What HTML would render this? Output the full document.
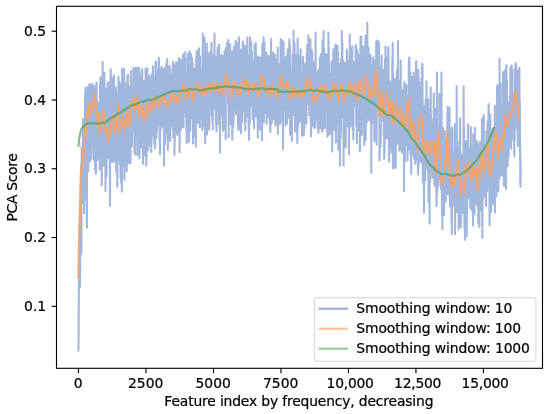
<!DOCTYPE html>
<html lang="en"><head><meta charset="utf-8"><title>PCA Score by feature index</title>
<style>html,body{margin:0;padding:0;background:#fff}body{width:550px;height:414px;overflow:hidden}svg{display:block}text{stroke:#000;stroke-width:.22px}</style>
</head><body>
<svg width="550" height="414" viewBox="0 0 550 414" font-family="'DejaVu Sans', 'Liberation Sans', sans-serif" font-size="13.89px" fill="#000">
<rect width="550" height="414" fill="#fff" stroke="none"/>
<clipPath id="c"><rect x="56.5" y="6.3" width="486.0" height="362.0"/></clipPath>
<g clip-path="url(#c)" fill="none" stroke-width="2.08" stroke-linejoin="round" stroke-linecap="square">
<path d="M78.4,350.5 78.5,339 78.6,336.8 78.6,312.5 78.7,319.2 78.9,281.9 78.9,276.9 79,291.5 79.1,272.6 79.1,288.7 79.2,281.9 79.3,270.4 79.4,268.2 79.5,254.8 79.5,254.4 79.7,243 79.7,240.7 79.8,229.3 79.9,227 80,215.6 80,286.7 80.2,251.7 80.2,252.7 80.3,235.5 80.4,229.4 80.5,207 80.6,209.7 80.6,235 80.7,255 80.8,233.4 80.8,223.6 81,210.8 81.1,203.1 81.1,172.5 81.2,164.4 81.3,208.8 81.3,196 81.4,253 81.5,232.9 81.6,176.1 81.6,162 81.7,146.9 81.8,153.3 81.9,198.7 82,160.7 82.1,196 82.1,187.9 82.2,168 82.4,180.3 82.4,199.7 82.5,202.3 82.6,174.9 82.6,171.8 82.7,153.4 82.9,143.4 82.9,129.5 83,148.9 83,124.2 83.1,144.2 83.2,118.8 83.3,121.8 83.4,155.9 83.4,170.9 83.6,145.9 83.7,130.3 83.7,178 83.8,177.3 83.9,197.1 83.9,197.3 84,146.3 84.2,213.2 84.2,193.9 84.2,206.1 84.4,160.4 84.4,165.3 84.5,183.2 84.6,166.9 84.6,200.6 84.8,184.8 84.9,165.7 84.9,159.3 85,105.8 85.1,94.8 85.1,118.5 85.2,115.2 85.2,138.6 85.4,116.3 85.5,90.2 85.5,87.8 85.6,99 85.7,98.4 85.8,145.1 85.9,140.7 86,170.6 86,159.2 86.2,116.7 86.2,120.4 86.3,155.7 86.3,145.6 86.4,186.4 86.5,158 86.6,135.9 86.7,115.4 86.8,163.4 86.8,178.5 86.9,227.7 87,195.2 87.1,122.5 87.2,91.3 87.3,118.9 87.3,135.2 87.4,150.7 87.5,151.2 87.5,108 87.6,115.1 87.7,87.1 87.9,105.7 87.9,91.3 88,105.1 88,148.3 88.2,161.6 88.3,133.9 88.3,171.1 88.4,136.6 88.4,148.5 88.6,87.2 88.6,91.3 88.7,107.9 88.8,92.8 88.9,130.1 88.9,112.3 89,132.9 89.1,110.7 89.2,84.7 89.4,84.5 89.4,85.9 89.4,86 89.5,92.8 89.6,108.2 89.7,86.6 89.8,87.8 89.9,116.5 89.9,129.4 90,161.1 90.1,161.4 90.2,147.2 90.2,160.4 90.4,131.3 90.4,134.1 90.5,93.9 90.6,102.6 90.7,86 90.7,100.9 90.8,85 90.9,97.7 91,115.7 91.1,158.8 91.2,126.6 91.2,150.1 91.2,137.2 91.4,140.1 91.5,92.6 91.5,86.7 91.6,83.9 91.7,83.9 91.8,85.4 91.9,88.6 92,135.7 92.1,144.9 92.1,110.7 92.2,109.9 92.3,135.6 92.3,131.8 92.4,101.4 92.6,104.1 92.6,120.4 92.7,113.3 92.8,95.4 92.9,84.9 92.9,102.8 93,98 93.1,134.7 93.3,128.7 93.3,107.9 93.3,97.4 93.4,142.6 93.6,159.4 93.6,139.4 93.7,110.4 93.8,86 93.8,85.6 93.9,110.5 94,102.3 94,134.9 94.2,98.5 94.3,90.5 94.3,88.7 94.4,110.8 94.5,120.1 94.6,109.5 94.6,134.5 94.7,108.1 94.8,88.7 94.9,108 94.9,122 95,170.1 95.1,149.9 95.2,120.8 95.3,104.4 95.4,87 95.4,87.4 95.6,113.5 95.6,109.6 95.7,162.5 95.8,162.9 95.9,173.6 95.9,160.4 96,102.8 96.1,107.6 96.1,127.4 96.2,137 96.4,92.1 96.4,82.8 96.5,82.5 96.6,82.5 96.7,86.9 96.7,104.1 96.8,133.9 96.9,123.2 97,103.8 97.1,122.6 97.2,100 97.3,125.8 97.3,138.6 97.4,160.1 97.5,133 97.5,156.8 97.6,118.3 97.8,106.6 97.8,134.8 97.9,142 98,124.3 98.1,139.9 98.1,114.8 98.3,129.3 98.3,108.8 98.3,114.6 98.4,150.5 98.5,157.2 98.6,132.1 98.7,126.4 98.8,102.9 98.8,108.8 99,131 99,103.1 99.1,145.2 99.1,154.7 99.3,117.3 99.3,154.6 99.4,118.6 99.5,130.5 99.6,103.8 99.6,138 99.7,169.3 99.8,165.4 99.9,118.2 100,106.2 100,83.8 100.1,98.9 100.3,138.5 100.3,141.5 100.4,78.5 100.5,77.2 100.6,95.3 100.6,109.6 100.7,142.6 100.8,169.6 100.9,155.5 101,162.8 101.1,110 101.2,92.5 101.2,108.9 101.3,120.4 101.3,150.4 101.5,118.2 101.6,167.9 101.6,162 101.7,180 101.8,185.1 101.9,135.7 101.9,149.7 101.9,121.1 102.1,124 102.2,146.5 102.3,124.9 102.3,158.6 102.4,131.9 102.5,80.3 102.6,61.7 102.7,89.8 102.7,112.3 102.8,139.5 102.9,116.2 103,83 103,94 103.1,136.7 103.2,141.9 103.3,165.6 103.4,137.3 103.5,103.7 103.5,107.5 103.6,75 103.7,75.8 103.8,99.1 103.8,94.6 104,112.5 104,129.8 104.1,115.6 104.2,105.9 104.3,77 104.4,72.7 104.5,87 104.5,84.8 104.6,112.3 104.7,117.4 104.8,94.2 104.8,100.8 105,121.4 105,116.7 105.1,93.6 105.2,110.3 105.3,155 105.3,148.7 105.4,173.5 105.5,191 105.6,141.6 105.7,125.7 105.7,107.7 105.8,109.1 105.8,128.3 106,108.1 106,142.5 106.1,142.4 106.3,95.5 106.4,88.8 106.4,97.2 106.4,120.9 106.5,172.7 106.6,176.4 106.7,112 106.8,108.2 106.9,93.7 107,93.5 107,128 107.1,110.9 107.2,125 107.3,122.1 107.4,152.2 107.4,139.7 107.5,90.6 107.6,83.4 107.7,102.6 107.8,97.2 107.9,109.1 108,100.4 108,139.8 108.1,156.3 108.2,140 108.2,133.1 108.3,83.3 108.4,105.7 108.5,82.1 108.5,84.7 108.6,108.5 108.7,103.7 108.8,158 108.9,138.5 109,152.7 109,118.5 109.1,92.9 109.3,88.6 109.3,147.3 109.4,141 109.5,160.3 109.5,156 109.6,116.3 109.7,121.4 109.8,94.4 109.8,102.3 110,190.2 110,206 110.1,160.3 110.2,164.4 110.2,122.4 110.3,130.6 110.4,153 110.5,147.2 110.6,88.7 110.7,74.6 110.7,69.4 110.8,72.4 110.9,109.9 111,114.8 111.1,123 111.2,137 111.2,104.3 111.3,116 111.4,143.9 111.5,136.1 111.6,160.3 111.7,161.5 111.7,123.2 111.8,124 111.9,77.9 112,81.1 112,99.1 112.1,109 112.2,127.5 112.3,113.1 112.4,162.1 112.5,148.3 112.5,129 112.6,135.9 112.7,112.5 112.8,106.8 112.8,86.5 112.9,89 113,113.6 113.1,149.9 113.2,118.2 113.2,161.2 113.4,112.9 113.5,124.3 113.5,80.3 113.6,100.7 113.7,109.9 113.7,102.4 113.8,80.9 113.9,75.2 114,102.2 114.1,86.3 114.2,132.1 114.2,137.8 114.3,119 114.4,105.2 114.5,121.6 114.5,104.2 114.7,119.8 114.7,108.3 114.8,150 114.9,146.5 114.9,161.7 115,158.3 115.2,129.6 115.2,123.2 115.3,142.8 115.4,145.5 115.5,108.7 115.6,120.8 115.6,98 115.7,113.9 115.8,88.4 115.8,87.4 116,135.4 116,133 116.1,163.5 116.2,172 116.3,149.4 116.4,146.9 116.5,100.5 116.5,102.4 116.6,111.3 116.7,125.8 116.8,114 116.9,126.8 116.9,93.9 117,107.8 117.1,151.2 117.1,147.5 117.2,175.5 117.3,187 117.4,133.5 117.5,158.8 117.6,119.4 117.7,119.9 117.8,129.5 117.8,109 117.9,135.6 117.9,143.7 118,153.4 118.1,160.3 118.2,114.5 118.3,105.2 118.4,84 118.5,76.6 118.6,98.1 118.6,91.6 118.7,115 118.8,105.8 118.9,131.2 118.9,132.1 119,114.7 119.1,129.6 119.2,92.3 119.3,108.3 119.4,82.1 119.4,91.5 119.5,110.8 119.6,95.5 119.7,112.5 119.8,89.5 119.9,118.7 119.9,164.3 120,143.7 120.1,139.9 120.2,89.4 120.3,84.1 120.4,128.1 120.4,133.1 120.5,177.6 120.5,143.9 120.7,86.3 120.8,93.4 120.8,151 120.9,174.8 121,163.9 121.1,182.5 121.2,156.8 121.2,158.3 121.3,114.9 121.4,126.2 121.5,91.1 121.5,121.5 121.6,150.4 121.7,135 121.8,183.5 121.8,191.6 122,182.9 122,173.8 122.1,74.3 122.2,71.7 122.2,68.8 122.3,71.6 122.4,103.6 122.6,154.6 122.6,111.1 122.6,111.5 122.7,135.4 122.8,99.6 122.9,135.8 123,121.7 123.1,138.3 123.1,117.6 123.2,74 123.3,69.7 123.4,119.9 123.5,107 123.6,164.2 123.6,143.4 123.7,159.7 123.9,165.7 123.9,121.3 124,103.8 124.1,87.2 124.1,68.6 124.2,91.5 124.3,88.6 124.4,144 124.4,152.3 124.5,179.9 124.6,165.7 124.7,150.9 124.8,152.5 124.9,131.3 124.9,116.5 125,138.7 125.1,125.2 125.2,90.5 125.2,83.1 125.4,122 125.5,117.9 125.5,141.2 125.6,123.1 125.6,140.6 125.7,152.8 125.8,124.3 125.9,109.9 125.9,92.3 126.1,111.5 126.2,133.7 126.2,137.9 126.2,124.7 126.4,139.8 126.5,115.3 126.6,114.1 126.6,149.5 126.7,157.1 126.8,171.1 126.9,154.4 127,118.2 127,160.1 127.1,153.3 127.2,155 127.3,96 127.4,75.9 127.5,86 127.5,91 127.6,126.2 127.7,133.5 127.7,144.2 127.9,124.6 128,86.1 128,74.8 128.1,112.1 128.2,110.4 128.2,134.2 128.4,128.5 128.5,110.2 128.5,131.4 128.6,94.6 128.7,127.8 128.8,103.3 128.8,120.5 128.9,153.5 129,162.9 129.1,130.3 129.2,146.1 129.2,115.6 129.3,99.8 129.4,125.9 129.5,118.9 129.5,95.1 129.7,108.6 129.7,97.1 129.8,85.7 129.9,116.2 129.9,126.8 130,161.6 130.1,154.8 130.2,114.6 130.3,125.7 130.3,150.4 130.4,149.8 130.5,163.2 130.6,152.2 130.7,125.8 130.8,124.4 130.9,81.4 130.9,70.8 131,93.4 131.1,99.8 131.2,140.2 131.2,146.6 131.3,104.4 131.5,132.2 131.5,82.6 131.6,107.6 131.7,141.8 131.8,104.1 131.9,143.1 131.9,146.2 132,113.4 132.1,135 132.2,106.8 132.3,121.3 132.3,128.1 132.4,126.2 132.5,96.7 132.5,97.7 132.6,82.7 132.7,113.1 132.8,130.5 132.9,122 133,85.8 133,82.1 133.2,123.2 133.2,117.5 133.3,79 133.4,67.8 133.5,68.3 133.5,71.2 133.6,69 133.7,72.8 133.8,83.2 133.8,88.7 133.9,111 134,104.7 134.1,113.7 134.2,119.4 134.2,108.1 134.3,103.8 134.5,152.8 134.5,151.5 134.6,132.7 134.7,117.5 134.7,89.3 134.8,110.8 134.9,154.4 135,133.2 135,144.2 135.2,120.9 135.2,136.6 135.3,122.7 135.4,89 135.5,89.5 135.6,69.2 135.6,68.1 135.7,79.2 135.8,74.5 135.9,114.2 136,123.1 136.1,93.2 136.2,81.7 136.2,109.6 136.3,94.1 136.3,133.6 136.5,118.6 136.6,67.8 136.6,67.8 136.7,77.2 136.8,98 136.9,87.1 136.9,91.2 137,73.7 137.1,92.8 137.2,134.1 137.2,138.8 137.3,155 137.4,141.4 137.5,121.4 137.6,136.6 137.7,114.1 137.8,132.6 137.9,94.6 137.9,98.7 138,129.3 138,132.6 138.2,112 138.2,92.7 138.3,68.3 138.4,92.8 138.4,74.6 138.6,107.2 138.7,72 138.7,80.9 138.8,67.9 138.9,67.7 139,74 139,76.5 139.2,103.3 139.2,98 139.3,142.7 139.4,141.3 139.5,158.1 139.5,151.3 139.6,104.4 139.7,105.5 139.7,71.8 139.9,89.3 140,125.6 140,133.4 140.1,98.1 140.2,105.7 140.3,118.5 140.3,139.1 140.4,120.6 140.5,143.2 140.6,117.4 140.7,128 140.8,93.5 140.9,107.2 140.9,89.4 141,88.9 141.1,122.9 141.1,117.7 141.2,147.3 141.3,147.8 141.4,136.4 141.5,133.4 141.6,81.1 141.6,77.7 141.7,106.7 141.8,102.9 141.8,116.8 141.9,106.1 142.1,69.4 142.2,70.4 142.2,94.5 142.4,90.2 142.4,108.5 142.4,123.9 142.6,93.5 142.6,82.1 142.7,106.5 142.8,95.7 142.9,135.5 143,163.9 143,132.1 143.1,124.2 143.2,87.1 143.3,134.2 143.4,108.9 143.4,118.6 143.5,128.7 143.6,110.1 143.6,137.6 143.7,134.9 143.8,105 143.9,113.3 144,148.5 144,155.4 144.2,110.1 144.3,80.7 144.3,112.7 144.4,121.5 144.5,136.9 144.5,137.8 144.7,111.1 144.7,115.7 144.7,94 144.9,93.3 145,111.8 145.1,92 145.1,120.2 145.2,93.9 145.3,125.6 145.3,132.1 145.5,122.2 145.5,118.2 145.6,68.5 145.7,69.3 145.8,95 145.8,95.2 146,137.7 146,134.7 146.1,159.5 146.3,140.4 146.3,165.4 146.3,165.6 146.4,154.2 146.5,159.6 146.6,90.6 146.6,87 146.8,101.1 146.9,85.3 146.9,102.8 147,94.9 147.1,77 147.1,68.6 147.2,81.2 147.3,68.2 147.4,115.3 147.4,90.1 147.6,130.3 147.6,140.1 147.7,108 147.8,128 147.9,137.8 148,150.3 148,115.6 148.1,117.9 148.1,84.6 148.3,132.2 148.3,110.1 148.4,140.7 148.6,96.5 148.6,104 148.7,80.4 148.8,80.9 148.9,97.7 148.9,111.2 149,96.3 149.1,94.6 149.2,145.5 149.2,143.8 149.3,134.8 149.4,75.6 149.5,109 149.6,99.3 149.7,115.6 149.7,125.6 149.8,99.4 149.9,117.3 150,79.6 150.1,79.1 150.2,105 150.2,94.1 150.3,123.2 150.4,99 150.5,120.9 150.5,105.2 150.7,145.9 150.7,133.2 150.7,108.7 150.8,104.6 150.9,78.4 151,88.6 151.1,124.5 151.2,134.7 151.3,151.9 151.4,135.9 151.4,114.5 151.5,116.9 151.6,135.8 151.7,124.4 151.8,77.1 151.8,82.4 151.8,74.2 152,80.9 152.1,117.3 152.1,107.2 152.3,133.9 152.3,121.8 152.4,90.5 152.5,76.8 152.6,107.2 152.6,113.1 152.7,76.6 152.8,79.5 152.9,66.2 153,96.7 153.1,132.5 153.1,125.8 153.2,100.7 153.3,109.9 153.4,77.5 153.4,83.5 153.5,101.3 153.6,107.4 153.7,134.3 153.8,139.1 153.9,117.9 154,81.4 154,109.7 154.1,88.1 154.2,133 154.3,123.2 154.3,144 154.4,140.2 154.6,121 154.6,108.3 154.7,90.7 154.7,88 154.9,118.4 154.9,125.7 155,144.3 155.1,148.5 155.2,115.2 155.3,142.5 155.4,87.8 155.4,76.9 155.5,61.9 155.6,62 155.7,97.4 155.7,105.8 155.8,131.5 155.9,130.8 156,73.2 156,79.2 156.1,61.6 156.2,64.2 156.3,113.7 156.4,138.3 156.5,99.3 156.5,86.3 156.7,112.3 156.7,94.6 156.8,132.3 156.9,123.9 156.9,89.3 157,96.2 157.1,69.5 157.2,86.2 157.2,108.1 157.4,113.9 157.5,94 157.5,102 157.6,81.4 157.7,83.3 157.8,111.7 157.9,96.2 158,124.7 158,120.8 158.1,100.8 158.2,114.8 158.2,91.8 158.3,87.5 158.4,113 158.5,93.3 158.6,114.4 158.7,111.1 158.8,72.1 158.8,66.2 158.9,57.8 159,64.6 159.1,103.7 159.1,119.2 159.2,91.9 159.3,82.3 159.4,114.7 159.4,117 159.6,141.4 159.6,129.8 159.7,103.9 159.8,100.2 159.9,142.8 160,154.4 160.1,141.5 160.1,147.1 160.2,110.7 160.3,89.3 160.3,126.9 160.4,132.6 160.5,89.6 160.6,70 160.7,89.9 160.7,98.6 160.8,114.3 160.9,126.6 161,93.5 161.1,96.6 161.1,113.7 161.2,105.5 161.3,67.9 161.4,76 161.5,105.6 161.6,116.8 161.7,93.4 161.7,67 161.8,83.9 161.9,87.2 162,117.9 162.1,122.1 162.2,88.9 162.2,98.2 162.3,70 162.4,69.7 162.4,108.9 162.5,107 162.6,91.3 162.7,91.9 162.8,119.3 162.8,127.2 163,83.9 163.1,91.1 163.1,79.2 163.2,99.8 163.2,117.8 163.3,111.6 163.4,84.8 163.6,83.9 163.6,105.9 163.7,112.5 163.7,129.9 163.9,107.1 164,125.4 164,165.5 164.1,90.2 164.1,79.5 164.2,68.4 164.3,71.7 164.4,101 164.5,84.4 164.5,100.7 164.6,77.5 164.7,95.3 164.8,105.3 164.9,139.9 165,143.7 165.1,122.2 165.2,105.3 165.2,117.6 165.3,116.6 165.3,98.3 165.5,109.7 165.6,132.9 165.6,130 165.7,102 165.8,100.8 165.9,65.8 165.9,77.5 166,109.9 166.1,108.3 166.2,131.9 166.2,111.9 166.4,78.7 166.4,86.7 166.5,63.9 166.6,63 166.7,77.2 166.7,75.6 166.9,123.8 166.9,128.9 167,100 167.1,92 167.2,61.1 167.2,59.1 167.4,95.4 167.4,110.3 167.5,139.4 167.5,121.1 167.6,109.8 167.7,125.7 167.8,150.1 167.9,146.5 168,127.5 168.1,112.6 168.1,129.5 168.2,110.1 168.2,92.5 168.4,109.2 168.4,131.9 168.5,138.5 168.6,98.7 168.7,85.1 168.8,66.5 168.9,79.3 168.9,98.9 169,87 169.1,105.5 169.2,98.5 169.3,112.6 169.3,106.1 169.4,81.5 169.5,85.5 169.6,65.9 169.7,68.1 169.8,94.6 169.8,90.7 169.9,131.6 170,115.5 170.1,131.3 170.2,118.6 170.3,141 170.3,127.1 170.4,113.7 170.5,92.2 170.6,114.1 170.7,87.9 170.8,124 170.8,129.1 170.9,98.5 171,119.9 171.1,99.8 171.2,106.3 171.2,90.4 171.3,84.8 171.4,101.1 171.4,90.6 171.5,77.5 171.6,93.5 171.7,113.1 171.8,126 171.9,98.4 171.9,74.5 172,101.5 172.1,73.3 172.2,104.9 172.3,69 172.4,88.5 172.5,82.6 172.5,105.1 172.6,116.3 172.7,89.3 172.8,97.8 172.9,65.2 172.9,61.9 173,76.7 173.1,65.4 173.2,96.3 173.2,95.3 173.3,127.8 173.4,137.5 173.4,132.6 173.6,128.3 173.7,81 173.7,96 173.8,67.7 173.9,65.6 173.9,87.7 174,83.1 174.1,119.1 174.2,99.5 174.3,76.1 174.4,81.9 174.5,137.8 174.5,155 174.6,121.9 174.7,115.5 174.8,141.3 174.9,99.3 174.9,112.5 175.1,72.9 175.1,110.7 175.2,93.7 175.3,108.5 175.3,104.7 175.4,86.2 175.5,64.5 175.6,85.3 175.7,82.6 175.8,103.6 175.8,94.1 175.9,70.4 176,62.6 176.1,119.6 176.2,94.4 176.2,116.3 176.3,114.1 176.3,90 176.5,104.9 176.6,125.8 176.6,131.1 176.7,102 176.8,82.3 176.9,109.8 177,105.2 177,132.2 177.2,134.7 177.2,115.3 177.3,121.5 177.3,132 177.4,112.9 177.5,76.1 177.6,74.8 177.7,89.8 177.8,94.5 177.9,73.2 178,61.7 178.1,75.4 178.1,66.5 178.2,110 178.2,119 178.3,125.4 178.4,124.1 178.5,106.9 178.6,90.4 178.7,121.9 178.7,132.2 178.8,119.4 178.9,121.7 179,58.3 179.1,60.8 179.2,75.4 179.2,70.4 179.3,112.6 179.4,117.5 179.5,145.9 179.6,152.2 179.7,142.4 179.7,144.1 179.8,93.6 179.9,71.5 179.9,85.7 180,90.1 180.1,103.3 180.2,116.7 180.3,98.4 180.3,97.5 180.5,81 180.5,65.2 180.6,102.9 180.7,109.7 180.8,130.1 180.8,124.3 181,81.9 181,74.3 181,59.8 181.2,73.6 181.3,97 181.4,93 181.5,112.1 181.5,101.7 181.6,92.8 181.6,69.3 181.8,96.9 181.8,83 181.9,126.9 182,112.8 182.1,84.1 182.2,66.4 182.3,100.2 182.3,94.5 182.4,109.1 182.5,122.9 182.6,75.5 182.7,69.9 182.8,92.1 182.8,90 182.9,111.7 182.9,109 183.1,54.3 183.1,55.7 183.2,72.3 183.3,87.8 183.4,118.4 183.5,127.3 183.6,88.3 183.6,118.4 183.7,75.6 183.8,66 183.8,90.4 183.9,71.6 184,95.6 184.1,76.5 184.2,83 184.3,69.1 184.4,87.5 184.4,112.4 184.5,92.9 184.6,69 184.6,87.6 184.7,73.5 184.8,102.4 185,72.8 185,93 185,95.9 185.2,58.1 185.3,65.4 185.3,52 185.4,52.1 185.5,72.6 185.6,64.7 185.6,79.3 185.8,57.9 185.8,71.5 185.9,80.1 186,113.1 186,116.9 186.1,74.1 186.2,74.5 186.3,96.1 186.3,100.5 186.5,124.2 186.5,119.8 186.6,141.9 186.7,143.1 186.8,130.1 186.8,136.2 187,108.4 187,113.7 187.1,93.8 187.2,116.7 187.3,92.4 187.3,112 187.4,78.2 187.5,72.1 187.6,91.5 187.6,110 187.7,97.5 187.8,122.6 187.9,91.5 188,86.8 188.1,54.1 188.1,59.7 188.3,123.7 188.3,109.6 188.3,104 188.5,97.7 188.5,69.3 188.7,73 188.7,104.2 188.8,107.3 188.9,132.1 189,141.9 189.1,115.6 189.1,115.8 189.1,108.4 189.3,108.1 189.4,72.8 189.4,60.5 189.5,51.1 189.6,66.4 189.7,99.9 189.8,106.6 189.9,66.5 189.9,52.4 190,89 190.1,91.6 190.2,130.5 190.2,126 190.3,98.9 190.4,96.2 190.5,110.5 190.6,117.5 190.7,101.7 190.7,118.9 190.8,86.6 190.9,82.8 191,59.4 191.1,54.3 191.2,66.6 191.2,75.8 191.3,95.7 191.5,112.1 191.5,96.3 191.6,72.5 191.6,90.8 191.7,79.1 191.8,106.9 191.9,90.9 192,59.6 192,58.2 192.2,81.4 192.2,81.4 192.3,118.5 192.3,100.3 192.5,82.9 192.6,62.7 192.6,89.2 192.7,95.5 192.8,72.7 192.8,95.6 193,131.5 193,143.6 193.1,112.8 193.2,101.2 193.3,77.2 193.4,86.3 193.4,99 193.5,79.3 193.6,104.2 193.6,92.6 193.7,105.8 193.8,90 193.8,70.2 194,80.2 194.1,98.1 194.2,96.4 194.3,68.3 194.3,78.9 194.4,107.4 194.5,107.7 194.6,128.1 194.6,108.8 194.7,128.5 194.9,116.6 194.9,136.1 195,132.4 195.1,88.9 195.1,105.9 195.2,77.2 195.3,88.1 195.3,116.2 195.4,112.5 195.6,103.6 195.6,90.2 195.7,124.4 195.7,131.4 195.8,146.7 195.9,136.8 196,82.5 196.1,90 196.2,58.1 196.3,89.1 196.4,60.8 196.4,68.6 196.4,94.1 196.6,68.3 196.6,51.7 196.7,64 196.9,92.3 196.9,98 197,51.1 197.1,62.5 197.2,105.8 197.2,92.5 197.3,122.7 197.4,116.2 197.4,76.7 197.6,94.5 197.6,71.3 197.7,86.5 197.8,107.7 197.9,106.1 198,74.1 198,78 198.1,50.5 198.2,73 198.3,56.5 198.3,62.3 198.5,87.7 198.5,100.9 198.6,79.5 198.7,80.9 198.8,100.7 198.8,111.6 198.9,63.6 199.1,48.3 199.1,65.5 199.1,76.6 199.3,115.4 199.3,123.2 199.4,108 199.5,99.5 199.6,77.2 199.7,75.3 199.8,89.1 199.9,127.3 199.9,108.9 200,98.3 200.1,65.1 200.1,56.3 200.2,72.1 200.3,65.7 200.4,80.1 200.4,90.8 200.6,118.7 200.6,113.3 200.7,84.6 200.8,101.7 200.9,83.9 201,94.1 201.1,74 201.1,70.3 201.2,99.7 201.3,105 201.4,85.5 201.4,86.3 201.4,73 201.6,102 201.7,74.8 201.8,108.3 201.9,88.6 201.9,84 202,98.7 202.1,91.9 202.2,120.3 202.2,117.7 202.3,130.3 202.4,117.8 202.5,102.2 202.6,109.1 202.7,63.1 202.7,55.3 202.8,33.5 202.9,52.3 203,83.4 203,88.4 203.2,100.6 203.3,106.7 203.3,73.7 203.4,65.9 203.5,75.7 203.6,63.6 203.6,100.5 203.7,91.5 203.8,126.1 203.8,123.6 204,100.9 204,109 204.1,88.5 204.2,89.8 204.3,61.9 204.3,61.6 204.4,40.1 204.6,37.6 204.6,50.6 204.7,57.9 204.8,92.3 204.9,103.3 205,133.7 205.1,141 205.1,129.5 205.2,143.3 205.3,110.5 205.4,102 205.4,82.2 205.5,96.9 205.5,86.1 205.6,84.4 205.7,117.3 205.8,122.9 205.9,107.8 206,94.4 206,80.4 206.2,87.9 206.2,68.1 206.4,87.9 206.4,52.4 206.4,65.3 206.5,77.3 206.7,107.2 206.7,67 206.8,43.5 206.9,81.3 206.9,93.4 207,134.4 207.1,131.8 207.2,98.4 207.3,113 207.4,92.4 207.4,87.5 207.5,104.1 207.6,82.8 207.6,97.7 207.7,87.7 207.8,113 208,111.9 208,93.3 208.1,83.1 208.1,100.9 208.3,71.7 208.3,101.3 208.5,91.1 208.5,73.2 208.6,89.3 208.6,68 208.7,64.1 208.8,74.1 208.9,53.6 209,87.9 209,94.5 209.1,118.3 209.3,129.8 209.3,119 209.4,124.9 209.5,105.3 209.5,93.4 209.7,63.4 209.8,53.4 209.8,69.2 209.9,52 210,75.5 210.1,68.2 210.1,88 210.2,92.8 210.3,108 210.3,106.4 210.4,94.6 210.5,98.9 210.5,71.5 210.7,71.4 210.8,95.2 210.8,94.8 211,72.9 211,61 211.1,78.7 211.2,95.8 211.3,83.1 211.3,72.4 211.4,42.8 211.5,52.5 211.6,75.5 211.6,77.2 211.8,115.7 211.8,115.3 211.9,96.6 212,110.6 212,75.7 212.1,84 212.3,93.8 212.3,96.5 212.4,117.2 212.5,122.4 212.6,101.7 212.6,89.5 212.7,111.4 212.8,129.5 212.9,96.3 213,87.5 213,55 213.1,60.7 213.2,85.5 213.3,95.9 213.4,67.5 213.4,76.5 213.5,64.2 213.6,64.1 213.6,74.9 213.8,80.5 213.8,61.5 213.9,61.3 214,90 214.1,95 214.1,70.2 214.3,75.8 214.4,60.3 214.4,61.6 214.5,33.5 214.5,42.4 214.7,68.6 214.7,60.2 214.8,108.7 214.9,107.1 214.9,89.3 215.1,102.4 215.1,76.9 215.2,97.2 215.3,82.9 215.4,81.8 215.5,101.8 215.5,105.9 215.6,75.9 215.7,57.1 215.8,93.4 215.9,112.8 216,125.5 216,123.9 216.1,85.9 216.2,96.9 216.3,110.6 216.4,119.1 216.4,127.7 216.5,131.4 216.6,98.8 216.7,93.7 216.7,69.5 216.8,87.5 216.9,106.4 217.1,109.4 217.1,85 217.2,77.7 217.2,100.6 217.3,61.1 217.4,91.6 217.5,51.2 217.6,66.9 217.7,47.7 217.8,88.3 217.8,78.5 217.9,69.4 218,75.4 218.1,100.2 218.2,87.7 218.2,72.9 218.3,51.4 218.4,62.4 218.5,64.2 218.5,97.3 218.7,107.2 218.7,93 218.8,124.3 218.9,100.1 218.9,86.8 219,44.5 219.2,50 219.2,75.8 219.2,80.5 219.4,113.6 219.4,110.6 219.5,86.5 219.7,89.4 219.7,102.3 219.7,106.4 219.8,81.4 219.9,107.4 220,152.7 220.1,138.2 220.2,68.5 220.2,58.9 220.4,89.5 220.4,91.4 220.5,109.1 220.6,62.1 220.7,100.7 220.7,92.1 220.8,109 220.9,115 220.9,80.7 221,89.7 221.2,71.8 221.2,81.9 221.3,60.6 221.4,55.3 221.5,66.6 221.6,58.4 221.7,77.4 221.7,86.9 221.8,65 221.9,83.7 221.9,69.4 222,71.9 222.1,94.8 222.2,83.8 222.3,66.1 222.4,68.3 222.4,57.2 222.5,55.6 222.6,76.7 222.7,69.4 222.8,117.1 222.8,116.3 222.9,130.9 223,127.4 223.1,114.9 223.2,114.6 223.2,129.1 223.4,112.7 223.4,129.1 223.5,126.7 223.6,110.1 223.6,115.4 223.7,90.5 223.9,93.3 223.9,70.9 224,81.1 224,67.1 224.1,55.9 224.2,80.6 224.3,87.5 224.4,68.8 224.4,71 224.6,50.9 224.7,83 224.7,53.3 224.8,63.8 224.8,91.3 224.9,82.1 225,128.7 225.1,100.7 225.2,122.5 225.3,105.7 225.4,117.4 225.4,106.7 225.5,125.9 225.6,124.6 225.7,138.9 225.7,127.2 225.9,72.1 225.9,65.7 226,47.9 226.1,54.8 226.2,77.2 226.3,74 226.4,80.1 226.4,63.3 226.5,53.1 226.6,52.5 226.7,67.4 226.7,87.3 226.8,72.4 226.9,84.3 227,59.5 227.1,43 227.2,60.1 227.3,59.1 227.3,70.3 227.4,67.5 227.4,50.8 227.6,71.3 227.6,65 227.7,77.3 227.8,50.1 227.8,58.9 228,91.7 228,103.8 228.1,52.8 228.2,50.5 228.3,40 228.4,57.2 228.4,77.1 228.5,79.6 228.6,119.7 228.7,137 228.8,118.3 228.8,97 228.9,60.9 229,54.1 229.1,83.7 229.2,66.5 229.2,99.7 229.3,104.9 229.4,79.2 229.5,79.3 229.6,67.7 229.6,58.8 229.7,81.7 229.8,60.1 229.9,110.4 229.9,92.3 230.1,59.6 230.2,44.4 230.2,56.1 230.3,53.8 230.4,78.3 230.5,67.9 230.6,89 230.6,71.6 230.7,105.1 230.8,92.3 230.9,116.1 231,124 231,110.7 231.1,120.8 231.2,104.8 231.2,78.4 231.3,51.8 231.4,68.7 231.5,108 231.6,121.5 231.6,110.4 231.7,125.1 231.9,92.6 231.9,110.1 232,86.1 232.1,97.5 232.2,129.9 232.2,134.1 232.3,139.8 232.4,128.7 232.5,58.9 232.6,51.4 232.7,67.9 232.7,78.5 232.8,116.5 232.9,117.3 233,127.7 233,116.8 233.1,93.9 233.2,77.4 233.3,107.1 233.4,117.1 233.5,125.5 233.5,119.8 233.6,78.6 233.7,85.5 233.8,71.5 233.9,72.9 234,58.8 234,67.4 234.1,46.5 234.2,48.7 234.3,73.6 234.3,84.8 234.4,104.5 234.5,95.4 234.6,71.1 234.6,84 234.7,109.5 234.9,109.9 234.9,80.1 235.1,90.8 235.1,66.9 235.2,56.7 235.3,81.7 235.4,86.5 235.4,60.5 235.5,62.7 235.6,41.1 235.6,42.9 235.8,104.8 235.9,103 235.9,114.5 235.9,112.5 236,92 236.1,77.6 236.2,99.6 236.3,94.4 236.4,110.6 236.4,107.2 236.6,83.3 236.6,73.2 236.7,90.3 236.8,82.7 236.9,69.9 236.9,84.1 237,108.7 237.1,90.8 237.2,48.1 237.2,43.4 237.4,63.5 237.4,48.4 237.5,74.9 237.6,90.4 237.6,72.2 237.8,106.5 237.8,67.1 237.9,99.9 238,118.8 238.1,130 238.2,99.1 238.3,117 238.3,99.3 238.4,98.7 238.4,121.9 238.6,81.1 238.6,102.2 238.8,81.2 238.8,95.4 238.9,86.6 239,37.3 239,49.1 239.1,99.7 239.2,103.8 239.3,123.8 239.3,127.7 239.5,94.1 239.5,73.5 239.6,56.8 239.7,82.7 239.8,61.3 239.9,67.7 240,100.2 240,88.7 240.1,120.2 240.2,108.9 240.3,129.7 240.3,117.6 240.5,77.1 240.5,81.6 240.6,50.9 240.6,49.4 240.7,83.9 240.8,83 240.9,123.2 241,108.9 241,133.1 241.1,130.8 241.3,109.8 241.3,118.4 241.4,82.8 241.5,99 241.6,74.8 241.6,68.4 241.7,89.1 241.8,62.5 241.9,82.3 241.9,81.2 242,98.9 242.2,105.9 242.2,82 242.3,87 242.4,121.9 242.5,114.8 242.6,106.1 242.6,105.5 242.7,49.5 242.8,41.5 242.9,55.1 242.9,48.4 243,95.7 243.1,79.2 243.2,100.2 243.2,85.4 243.4,71.9 243.4,87.1 243.5,63.2 243.6,75.1 243.7,106.7 243.7,110.6 243.8,90.8 243.9,108.5 244,76.6 244,97.5 244.2,63.6 244.3,54.3 244.3,66.5 244.4,60.5 244.5,74.6 244.5,82 244.6,47.1 244.7,45.3 244.8,68.5 244.9,71.8 245,97.5 245,90.8 245.2,122.1 245.2,130.2 245.2,104.8 245.3,120 245.4,82 245.5,99 245.6,54.1 245.7,62.2 245.8,85.6 245.8,95.7 246,119.3 246.1,121.7 246.1,89.2 246.2,75.2 246.3,99.5 246.4,89.6 246.4,116.4 246.5,109.3 246.6,57.4 246.7,84.3 246.8,47.8 246.8,47.4 246.9,73.5 247,51.7 247,73.9 247.2,54.1 247.3,37.8 247.3,38 247.4,48.2 247.4,53.9 247.5,71.5 247.6,88.8 247.7,74 247.8,98.4 247.9,68.7 247.9,55.5 248,96 248.1,93.1 248.2,115.4 248.3,112.7 248.4,69.8 248.5,87.7 248.5,72.9 248.6,88.4 248.7,128.9 248.7,126.9 248.8,108.9 248.9,121.4 249,139.9 249.1,127.5 249.2,93.1 249.3,117.2 249.4,88.4 249.4,91.2 249.4,119.8 249.6,110.6 249.6,124.1 249.8,114.3 249.9,91 249.9,77 250,37.2 250,56.5 250.2,84.1 250.2,68.5 250.3,76.3 250.4,65.1 250.5,98.7 250.6,105.1 250.6,91.5 250.7,104.1 250.8,84.5 250.9,99.4 251,75.2 251,65.5 251.1,44.3 251.2,41.8 251.3,74.4 251.3,81.4 251.5,101.6 251.5,81.5 251.6,99.2 251.7,93.4 251.8,63.8 251.8,51.8 251.9,68.6 252,73.9 252.1,99.6 252.2,102.6 252.3,63.4 252.3,74.3 252.4,107.5 252.5,97.8 252.6,118.1 252.7,85.6 252.7,104 252.9,105.5 252.9,119.4 253,105.2 253.1,75.6 253.1,72.3 253.2,60.9 253.3,74.1 253.4,64.3 253.5,95.5 253.6,64.3 253.6,93.7 253.7,63.8 253.8,78.4 253.8,100 253.9,96.5 254.1,128.3 254.1,126.9 254.2,106.5 254.3,117 254.3,109.1 254.4,107.2 254.6,63.6 254.6,44.9 254.7,92.7 254.7,93.8 254.9,108.6 254.9,109.1 255,79.2 255.1,63 255.2,77 255.3,79.5 255.4,56.6 255.4,63.7 255.5,85.1 255.7,84.1 255.7,64 255.8,42.7 255.9,71.8 256,109.6 256,90.8 256.1,115.5 256.2,71.7 256.2,74.7 256.3,92.8 256.4,88.7 256.4,113.5 256.5,116.8 256.6,82.5 256.7,88.6 256.8,61 256.9,58.9 257,89.5 257,74.9 257.1,114.2 257.2,116 257.3,71.1 257.4,82.2 257.4,66.1 257.5,56.2 257.6,114.3 257.7,121.1 257.8,137.4 257.8,130.7 257.9,91.2 258,74.8 258.1,95.9 258.2,91.4 258.3,59.7 258.3,61.6 258.4,89.6 258.5,65.1 258.6,113.7 258.7,107.1 258.7,81 258.8,87.2 258.9,58.6 259,78.1 259.1,104.4 259.1,101.7 259.3,115.9 259.3,113.7 259.4,86.5 259.4,91.4 259.6,57.2 259.6,57.8 259.7,82 259.8,85.2 259.9,129.5 260,117.9 260,128.1 260.1,129.8 260.2,112 260.3,121.2 260.4,129.2 260.4,126.9 260.6,97.9 260.6,108.7 260.6,79.9 260.7,99.8 260.9,117.6 260.9,113.1 261,75 261.1,82.2 261.1,110.2 261.2,107.5 261.3,93.7 261.4,91.8 261.4,77.3 261.6,84.4 261.6,65.6 261.7,73.4 261.8,56 261.9,75.2 262,139.9 262,121.6 262.2,56.9 262.2,67.2 262.3,44.5 262.4,43.7 262.4,62.9 262.5,86.2 262.6,58.8 262.7,58.9 262.8,74.2 262.9,55.4 262.9,71.1 263,69.9 263.1,51.1 263.2,70.1 263.2,86.6 263.3,81.9 263.4,101 263.5,68.1 263.6,37.3 263.7,55.7 263.8,92.8 263.8,122.6 264,74.8 264.1,81.2 264.1,66.9 264.1,63.4 264.3,88.5 264.3,91.5 264.4,57.8 264.5,65 264.5,42.4 264.7,59.8 264.7,87.6 264.8,98.1 264.9,71.8 265,74.4 265,60.1 265.2,58 265.3,76.9 265.3,78.8 265.4,55.8 265.4,63.7 265.5,81.1 265.6,87.5 265.7,110.8 265.8,90.9 265.8,113.3 265.9,106.5 266.1,88.4 266.1,78.8 266.2,59.5 266.3,52.7 266.4,58.1 266.4,56.4 266.5,110.1 266.6,123.9 266.7,116 266.7,117.2 266.8,98 266.9,86.3 267,116.3 267.1,77.3 267.2,99.2 267.2,81 267.4,117.9 267.4,107 267.5,85.2 267.5,82.3 267.6,97.5 267.7,91 267.7,113.6 267.9,106.5 268,79.1 268.1,82.5 268.2,88.7 268.2,92 268.3,64.7 268.5,55.8 268.5,67.2 268.5,77 268.5,99.5 268.7,111.2 268.8,69.6 268.8,67.3 269,103.3 269.1,88.7 269.1,116.7 269.2,108.6 269.3,58.7 269.3,68.9 269.5,56.9 269.5,69 269.6,99.5 269.7,84.7 269.8,113.7 269.9,96.5 269.9,128.6 270,123 270.1,93.3 270.2,87.2 270.2,98.4 270.3,107.4 270.4,132.1 270.5,103.2 270.5,110.4 270.6,108.4 270.7,119.8 270.8,108.2 270.9,59.8 271,54.7 271,39 271.1,49.6 271.2,92.1 271.3,77.1 271.4,112.8 271.5,100.8 271.5,123.9 271.7,107.1 271.7,119.7 271.8,122.4 271.8,87.3 271.9,116.2 272,107.7 272.1,120.1 272.2,80.7 272.2,92.6 272.3,76.5 272.4,86.8 272.5,60.8 272.6,52.3 272.7,100 272.7,97.5 272.8,68.9 272.9,100.1 273,52.5 273.1,64.4 273.2,100.3 273.2,113.2 273.3,100.5 273.4,87.4 273.5,71.1 273.6,60.7 273.7,77.3 273.8,75.2 273.8,90.4 273.9,90.9 273.9,118.9 274.1,119.1 274.2,87.7 274.2,81.8 274.3,109.9 274.4,85.1 274.5,108.3 274.5,106.8 274.6,79 274.7,78.7 274.8,61.5 274.9,54.6 274.9,68.3 275,60.4 275.1,77.6 275.2,92.4 275.3,114.5 275.3,101.5 275.4,125.7 275.5,109.5 275.6,124.5 275.7,121.6 275.8,81 275.8,91.1 275.9,109.3 276,93.8 276.1,118.3 276.2,85.3 276.3,120.1 276.3,97.4 276.4,122.4 276.5,100.3 276.6,117.8 276.7,102.7 276.7,83.7 276.8,100.6 276.9,78.6 277,81.7 277.1,61.4 277.1,59.4 277.2,118.3 277.3,123 277.4,105.3 277.4,109.4 277.6,61.2 277.6,70.5 277.7,47.5 277.8,69 277.9,123.8 277.9,134 278.1,121.6 278.1,116.6 278.2,104.9 278.3,113.6 278.4,88.3 278.5,75.3 278.5,86 278.6,88.9 278.7,123.7 278.7,123.3 278.9,105.3 278.9,98 278.9,111 279.1,108.8 279.2,77 279.2,84.3 279.3,64.2 279.4,85.3 279.5,118.4 279.5,121.9 279.6,98.6 279.7,118.5 279.8,85 279.9,113.3 280,98.7 280.1,123.9 280.1,98.5 280.2,100.5 280.3,74.7 280.4,65.4 280.4,94.1 280.5,89.7 280.6,57.6 280.7,39 280.8,95.8 280.9,111.7 280.9,90.4 281,110.5 281.1,62.1 281.2,67.4 281.3,49 281.4,47.1 281.4,74.1 281.5,75.1 281.6,81.2 281.7,75.2 281.8,45.4 281.8,46.4 281.9,40.4 282,40.7 282.1,90.3 282.2,106.2 282.3,120.7 282.3,121.7 282.4,91.6 282.5,97.4 282.6,66.7 282.7,64.8 282.8,72.8 282.8,60.9 282.9,106.3 282.9,116.4 283,149 283.1,113.6 283.2,73.6 283.3,69.2 283.4,45.7 283.5,41.8 283.6,53 283.6,45.2 283.7,79.4 283.8,92.5 283.8,105 283.9,96.8 284.1,72.6 284.1,77.9 284.2,107.7 284.2,104.6 284.4,74.5 284.4,70.2 284.4,59.9 284.6,70.9 284.6,90.8 284.8,93 284.9,73.1 284.9,64.8 285,99.5 285.1,93.8 285.2,110.1 285.2,95.3 285.3,73.9 285.4,89.3 285.5,117.6 285.6,125.3 285.7,73.7 285.7,77.4 285.7,63 285.9,56.8 286,84.1 286,80.3 286.2,57 286.2,62.6 286.3,80.9 286.4,83.6 286.5,57.6 286.5,79.7 286.6,61.8 286.7,81.2 286.7,60.8 286.9,77.1 287,112.3 287,123.8 287.1,110.1 287.2,115 287.2,81 287.3,86 287.5,64.1 287.5,49.4 287.6,81.6 287.7,73.5 287.8,115.6 287.8,101 287.9,80.4 288,101.5 288.1,94.7 288.2,96.6 288.2,81.7 288.3,87.6 288.4,78.6 288.5,72.1 288.6,58.4 288.6,60.4 288.8,109 288.8,110.7 288.9,94.5 289,118 289,99.4 289.1,108.3 289.2,55.3 289.3,39.4 289.4,59 289.4,55.2 289.6,103.9 289.6,90.9 289.7,61.4 289.8,59.6 289.8,43.4 289.9,48.4 290,100.9 290.1,103.3 290.2,134.8 290.2,122.3 290.3,83 290.4,86.9 290.4,70.6 290.6,101.3 290.6,134.1 290.8,123.4 290.9,92.4 290.9,114.1 290.9,100.2 291.1,121 291.2,105.2 291.2,114.3 291.3,72.4 291.4,70.7 291.5,91.2 291.5,99.1 291.7,120.6 291.7,127.7 291.8,138.4 291.9,141 292,119.8 292,117.3 292.1,107.2 292.2,98.3 292.3,72.7 292.3,71.5 292.5,54.2 292.5,76.8 292.6,93.9 292.7,90.6 292.8,78.8 292.8,75.1 292.9,59.5 293.1,60.6 293.1,76.5 293.2,73 293.3,112.3 293.3,115.3 293.5,74.4 293.5,31 293.6,94.1 293.7,78.4 293.8,101.1 293.8,75.6 293.9,106 294,106.6 294.1,73.5 294.2,63.8 294.3,92.1 294.3,98 294.3,107.4 294.5,78.4 294.6,43 294.6,43 294.7,92.4 294.8,100.8 294.9,112.2 294.9,118.4 295,104.1 295.1,131.5 295.2,90.9 295.3,75.8 295.3,97.5 295.5,106.5 295.5,81.9 295.6,80.7 295.7,65.9 295.8,78.7 295.9,103.6 295.9,104.9 296,92.4 296.1,120.8 296.2,105 296.3,110.7 296.3,131.7 296.4,110.8 296.5,88.5 296.6,54.5 296.7,77.8 296.7,73 296.8,87.9 296.9,78.1 297,56.7 297,64.3 297.2,118.3 297.2,127.2 297.3,143.2 297.4,133.5 297.5,91.9 297.5,93.2 297.6,46.2 297.7,38.6 297.8,63 297.9,79.2 298,97.8 298,119 298.2,91.8 298.2,105.6 298.3,125.1 298.3,126 298.5,82.1 298.5,78.5 298.6,55.3 298.7,59.5 298.8,98.6 298.9,103.5 299,91.6 299,82.2 299.1,102.8 299.2,111.6 299.3,95.6 299.4,103.9 299.4,113.3 299.5,122.1 299.6,115.6 299.6,117.2 299.8,94.1 299.9,106.2 299.9,87.3 300,110.6 300.1,98.9 300.2,120.9 300.2,103.9 300.3,117.7 300.4,70 300.4,93.3 300.6,49.3 300.6,52 300.7,86.4 300.8,96.1 300.9,114.9 300.9,113.3 301.1,84.7 301.1,79.7 301.2,105 301.3,97.5 301.4,86.3 301.5,71.9 301.6,95.3 301.6,114.6 301.7,101.5 301.8,111.1 301.9,91.6 302,115 302,134.2 302.1,136 302.2,94.4 302.3,75.5 302.4,91.1 302.4,81 302.5,102.7 302.6,77.3 302.7,99.3 302.7,87.5 302.8,94.9 302.9,56.7 303,73.3 303,69.1 303.2,88.4 303.3,68.3 303.3,90.7 303.4,85 303.5,108.7 303.6,108.5 303.7,82.1 303.7,102.3 303.8,124.6 303.9,135.1 304,112.5 304,99.5 304.2,76.4 304.2,79.4 304.3,112.6 304.4,98.9 304.4,128.8 304.5,119.8 304.6,97.3 304.7,103.2 304.8,72.1 304.9,90.3 304.9,66.5 305,63.8 305.1,88.5 305.1,82.7 305.3,93.2 305.4,71.9 305.4,87.6 305.5,88.6 305.6,120.3 305.6,109.2 305.8,83.9 305.8,74.5 305.9,102.3 306.1,109.4 306.1,88.8 306.1,69.2 306.2,98.6 306.3,92.2 306.4,123.4 306.4,98.3 306.5,121.8 306.6,86.7 306.7,55.5 306.8,62.2 306.9,53 307,56.5 307.1,84.6 307.1,73.7 307.2,45.1 307.3,48.4 307.4,62.1 307.4,63.4 307.6,96.1 307.6,101 307.7,84.3 307.8,103.8 307.9,73.8 308,83 308,52.6 308.1,55.1 308.2,47.5 308.3,61.5 308.4,43.3 308.4,35.6 308.5,81.4 308.6,74.6 308.6,100.6 308.7,96.2 308.8,70.9 308.9,72.4 309,49.2 309.1,47.4 309.2,94.7 309.3,115 309.3,95.9 309.4,111.4 309.5,65.5 309.5,53 309.7,105.3 309.7,89.3 309.8,79.5 309.9,73.4 309.9,44.4 310,58.7 310.1,99.2 310.3,112.6 310.3,69 310.3,50.1 310.4,39.3 310.5,45.7 310.6,110.9 310.7,121.2 310.8,91.6 310.8,100.3 311,128.9 311,136.4 311.1,130.2 311.1,124.5 311.2,88.7 311.3,89.3 311.4,59.6 311.5,62.3 311.5,83.3 311.6,61.6 311.7,74.8 311.8,50.1 311.9,66.8 312,60 312.1,82.6 312.1,75.8 312.2,54.8 312.3,67.7 312.3,53.6 312.4,71.8 312.6,97.2 312.6,95.6 312.7,121 312.8,112.7 312.8,88.8 313,99.8 313,109.8 313.1,104.5 313.2,126.6 313.3,93.9 313.4,109.8 313.4,107.6 313.5,62.6 313.6,63.1 313.7,84.9 313.7,103.7 313.8,124 313.9,123.4 314,79.2 314.1,100 314.1,85.9 314.2,100.1 314.3,121.7 314.4,127.9 314.5,115.8 314.6,109.5 314.7,123.1 314.7,111.8 314.8,123.5 314.9,127.7 315,112.5 315.1,122.5 315.2,94.2 315.2,105.5 315.3,119.4 315.4,120.6 315.5,81.2 315.5,64.6 315.6,32.5 315.7,65.1 315.8,118.2 315.9,117.2 316,97.5 316.1,79.7 316.1,108.5 316.2,91 316.2,113.5 316.4,91.2 316.5,116.1 316.5,105.7 316.6,79.2 316.7,95.4 316.7,71.6 316.8,80.6 316.9,109.8 317,84 317.1,111.2 317.2,80.4 317.3,94.7 317.3,93.8 317.4,114.5 317.6,112.4 317.6,127.1 317.7,105.6 317.7,129.1 317.8,89.4 317.9,118.9 318,115.3 318,90.7 318.1,124.9 318.2,88.1 318.3,120.2 318.4,132.9 318.5,130.3 318.5,101.5 318.6,111.6 318.7,84.3 318.9,69.3 318.9,84.8 318.9,87.9 319.1,107.4 319.1,114.5 319.2,83.7 319.3,84.2 319.4,105.8 319.4,82.7 319.5,115.9 319.6,100.9 319.7,76.5 319.8,57.6 319.9,80.3 319.9,83 320,118.6 320.1,128.6 320.1,106.8 320.3,101.8 320.3,107.9 320.4,110.5 320.5,84.8 320.5,87.6 320.6,64.3 320.8,67.5 320.8,53.9 321,66.1 321,78 321,67.4 321.1,110.7 321.2,91.9 321.3,114.2 321.4,93.2 321.5,71.1 321.5,115.6 321.7,92.8 321.7,103.1 321.8,62.8 321.9,75.1 322,103.9 322,111.4 322.1,131.7 322.2,118.5 322.3,85.3 322.3,69.6 322.5,44.2 322.5,40.4 322.6,57.6 322.7,59.9 322.8,79.9 322.8,90.4 322.9,76.9 323,86.2 323.1,118.1 323.2,107 323.2,129.4 323.3,112.7 323.4,78.8 323.5,75.6 323.6,31 323.6,47.6 323.7,103.2 323.8,92.5 323.9,80.1 324,64.7 324,76.2 324.2,48.5 324.2,75.9 324.3,64.2 324.4,93.4 324.5,111.6 324.6,93.7 324.7,91.2 324.7,106.8 324.8,108 324.9,119.2 325,127.9 325.1,103.7 325.1,90.3 325.1,67.5 325.3,56.5 325.4,83.1 325.4,63 325.5,77.7 325.6,66.4 325.7,58.8 325.8,54.2 325.8,71.9 325.9,73 326,84.8 326.1,84.2 326.1,67.9 326.2,66 326.2,81.9 326.4,84.4 326.5,96.2 326.5,80.3 326.6,86.4 326.8,54.9 326.8,69.2 326.9,72.2 327,107.6 327.1,105.2 327.2,92.5 327.2,105.2 327.3,132.4 327.4,136.8 327.5,98.7 327.5,101.2 327.7,71.1 327.7,102.7 327.8,65.6 327.8,77 327.9,101.7 328.1,100.1 328.1,88.7 328.2,86.7 328.3,62.5 328.4,61.9 328.4,32.5 328.6,65.8 328.6,48.9 328.8,48.2 328.8,67.2 328.9,65.1 328.9,89.5 329.1,91.8 329.1,105.7 329.2,88.1 329.3,117 329.3,119.5 329.4,132 329.5,134.8 329.6,111.6 329.7,116.3 329.7,108.2 329.8,104.9 329.8,90.9 329.9,109.6 330.1,128 330.1,132.5 330.2,97.8 330.3,122.5 330.4,102.5 330.5,109.6 330.6,83.5 330.7,81.6 330.7,94.5 330.8,96.9 330.8,73.9 331,86.4 331.1,112.7 331.1,122.5 331.1,103 331.2,110.6 331.4,75.8 331.5,61.7 331.5,83 331.6,86.2 331.7,109.1 331.7,108.1 331.9,70.3 331.9,68.4 332,99.3 332.1,115 332.2,151.4 332.2,148.1 332.4,124.1 332.4,96 332.5,61.3 332.5,68.2 332.7,92.4 332.7,85.1 332.8,106.9 332.9,85.2 333,103.1 333.1,95.1 333.1,75.1 333.2,80.8 333.3,52 333.4,49.3 333.5,80.7 333.5,86.9 333.6,116.3 333.7,102.3 333.7,86.8 333.9,81.3 333.9,70.9 334.1,56.7 334.1,83.9 334.2,79.9 334.3,120.3 334.4,130.1 334.5,100.2 334.5,80.7 334.6,111.5 334.6,115.1 334.7,83.6 334.8,87.4 334.9,47.3 335,69.9 335.1,88.7 335.1,85.4 335.2,111.5 335.3,86.9 335.4,56.2 335.5,55.5 335.6,45.1 335.6,44.5 335.7,96.1 335.8,83.8 335.9,142.5 335.9,133.1 336,124.8 336.1,124 336.2,101.3 336.3,92.8 336.4,62.8 336.5,86.6 336.5,57.7 336.6,91.6 336.7,51.9 336.8,63.2 336.9,48.2 336.9,57 337.1,86.6 337.2,107.5 337.2,88.2 337.2,92.7 337.4,69 337.5,45.6 337.5,70 337.6,64.3 337.7,84.1 337.7,90.2 337.9,59.1 337.9,71.8 338,52.3 338.1,67.5 338.2,116.6 338.2,129.5 338.3,149.7 338.4,146.1 338.5,136.5 338.6,130.2 338.7,112.2 338.7,113.7 338.8,92.4 338.9,100.9 338.9,94.7 339.1,104.3 339.1,111.9 339.2,106.3 339.3,95.3 339.4,96.3 339.4,86.7 339.6,106 339.6,82.7 339.7,81 339.8,103.1 339.9,101.1 340,149.9 340,165.5 340.1,83.9 340.2,63.9 340.3,116.3 340.3,124.9 340.4,98.1 340.6,100.4 340.6,113.4 340.6,117.7 340.8,137.8 340.9,118.6 340.9,131 341,115.8 341.1,64.9 341.1,77.6 341.2,58.6 341.4,84.1 341.4,59.6 341.5,65.8 341.6,108.7 341.7,93 341.8,61.7 341.8,31 341.9,69.1 342,80 342,66.2 342.2,58.8 342.2,46 342.3,42 342.4,66.5 342.4,72 342.5,98.1 342.6,103.4 342.7,85.1 342.8,80.1 342.9,111.9 342.9,117.6 343,105 343.1,111 343.1,84.1 343.2,98.8 343.3,60.5 343.4,62 343.5,120.7 343.6,165.5 343.7,95.7 343.8,82.1 343.8,73.2 344,81.4 344,92.8 344,84.3 344.1,122.8 344.3,125.4 344.3,110.9 344.4,107.7 344.5,124 344.5,112.9 344.6,100.2 344.7,87.4 344.8,69.6 344.9,63 345,94.6 345,95.6 345.1,117.6 345.2,114.3 345.3,101.1 345.3,97.4 345.4,134 345.6,137.4 345.6,146 345.7,139.6 345.8,147.7 345.8,134.8 346,102 346,104.6 346,86.7 346.2,125.8 346.3,91.2 346.3,91.5 346.4,69.9 346.5,75.3 346.5,85.7 346.6,84.3 346.8,58.3 346.8,51.2 346.9,60.4 347,49.9 347.1,78.9 347.1,61.1 347.3,82.4 347.3,67.7 347.4,104.6 347.5,92.6 347.6,120.1 347.6,85.3 347.7,105.2 347.8,87.8 347.9,107.4 348,88.1 348.1,124.5 348.1,126.4 348.2,116 348.3,116.9 348.4,77.6 348.4,88.5 348.6,114 348.7,116.4 348.7,89.4 348.7,90.7 348.9,123.7 348.9,119.7 349,154.5 349.1,109.8 349.2,60.3 349.3,81.3 349.3,66.6 349.4,83.7 349.5,109.9 349.6,115.2 349.7,91.1 349.7,74.7 349.8,34.7 349.9,70.3 349.9,84.7 350,76.4 350.2,48.3 350.2,55.9 350.3,99.8 350.4,104 350.4,126.8 350.6,109 350.7,63 350.7,75 350.8,54.9 351,51.1 351,68.5 351,73.1 351.2,106 351.2,112.5 351.3,74.5 351.3,63.5 351.4,53.3 351.6,61.1 351.6,105.4 351.7,111.3 351.8,87 351.8,114.3 352,73.2 352,83.4 352.1,50.8 352.2,58.8 352.3,46.2 352.3,48.6 352.4,83 352.5,70.1 352.6,113.9 352.7,130.4 352.8,111.6 352.8,111.3 352.9,88.4 353,81.1 353,93.8 353.1,89.4 353.3,139.4 353.4,127.7 353.4,133.4 353.4,117.6 353.6,88.6 353.6,102.9 353.7,90.7 353.8,107.5 353.9,88.5 353.9,82 354,95 354.1,82.2 354.2,98.7 354.3,96.7 354.3,74.3 354.4,61.9 354.5,84.2 354.6,98.3 354.7,79.1 354.8,81.8 354.9,94.1 354.9,83.3 355,104.9 355.1,101.5 355.1,89.1 355.3,101.3 355.4,77.3 355.5,99.4 355.5,88.3 355.6,93.7 355.7,65.1 355.7,66.5 355.7,45.6 356,45.1 356,65.3 356,66.9 356.1,92.4 356.3,125 356.3,93.5 356.4,93.3 356.5,76 356.6,59.4 356.7,84.5 356.7,91.9 356.8,115.3 356.9,143.3 357,71.8 357.1,75.2 357.2,49.7 357.2,51.3 357.3,82.2 357.4,101.7 357.5,62.4 357.5,87.5 357.6,59.6 357.7,65.9 357.7,88.4 357.9,102 358,116.1 358,118.5 358.1,111.1 358.2,130.4 358.2,101.4 358.3,120.4 358.4,62.1 358.5,56.1 358.6,102 358.6,91.1 358.7,115 358.9,104.5 358.9,86.9 359,79.5 359.1,61.3 359.2,55 359.3,94.4 359.3,98.6 359.3,120.9 359.4,127.4 359.6,107.5 359.6,104.4 359.7,127 359.8,118.9 359.9,144.7 359.9,151.3 360,107 360.1,105.5 360.2,77.9 360.3,97.6 360.4,47.9 360.4,60.1 360.5,37.1 360.7,53.3 360.7,38.8 360.7,48.5 360.9,38.5 360.9,70.7 361,36.5 361.1,47.5 361.2,36.6 361.2,94 361.3,85.9 361.4,104.7 361.5,117.6 361.6,110.1 361.6,127.3 361.7,106.8 361.8,134.9 362,83.8 362,99.4 362.1,72.5 362.2,91.2 362.2,94.9 362.3,75.9 362.4,85.1 362.5,121.3 362.5,111.9 362.7,97.1 362.7,90.4 362.7,70.2 362.9,73.3 363,98.9 363,93.4 363.1,69.8 363.2,86.5 363.3,46.4 363.3,55.2 363.4,75.3 363.5,70 363.5,89.1 363.7,80.7 363.8,65.2 363.9,87.5 364,74.6 364,95.1 364.1,127 364.2,145 364.3,127.7 364.3,126.5 364.4,93.6 364.6,85.8 364.6,62.5 364.7,61.3 364.8,93.5 364.8,92.9 364.9,114.2 365,102.1 365.1,72.8 365.1,58.9 365.3,105.4 365.3,99.7 365.4,70.4 365.5,35.6 365.6,73.9 365.6,79.8 365.7,126.1 365.8,140 365.9,111.8 365.9,44.5 366,36.3 366.1,36.3 366.2,95.5 366.3,103 366.4,122.4 366.4,99.1 366.6,80.3 366.6,58.6 366.7,91.8 366.7,98.7 366.8,122.6 366.9,117 367,68.8 367.1,64.3 367.2,56.3 367.2,55.3 367.3,22.7 367.4,56.7 367.5,102.3 367.6,91.4 367.7,69.6 367.8,54.1 367.8,77.6 368,94.7 368,65.1 368,76.7 368.2,59 368.3,48.9 368.3,98.9 368.4,95.3 368.5,74.9 368.5,85.6 368.6,47.8 368.7,59.9 368.8,91.7 368.9,95.5 368.9,117.2 369.1,91.8 369.1,120.2 369.2,110.3 369.2,89.2 369.3,100.9 369.4,72.2 369.5,80.7 369.6,96.6 369.7,95.8 369.7,58.4 369.9,62.9 370,101.3 370,88.7 370,109.3 370.2,99 370.3,121.5 370.3,120.9 370.4,91.2 370.5,92.9 370.6,55 370.7,63.5 370.8,91.1 370.8,115.9 370.9,93.7 371,109.8 371.1,83 371.1,105.9 371.3,147.4 371.3,172.8 371.4,115.1 371.4,106.3 371.6,73.1 371.6,86.2 371.7,103.3 371.8,103.7 371.8,91.3 371.9,90.2 372.1,74.8 372.1,74.5 372.1,86.4 372.3,86.2 372.4,108.8 372.4,98.2 372.5,79.3 372.6,91 372.7,65.1 372.7,82.7 372.9,116.6 372.9,119.9 373,88.8 373.1,89.7 373.2,57.5 373.2,70.6 373.4,105.2 373.4,100.4 373.5,123.8 373.6,95.4 373.7,70.6 373.8,60 373.8,79.1 373.9,59.7 374,77.4 374,75.4 374.1,100.4 374.2,107.9 374.3,135.7 374.4,141.3 374.5,100.4 374.5,97.3 374.6,72.2 374.8,97.6 374.8,86.3 374.8,86.1 375,61.1 375,65.6 375.1,85 375.2,66.8 375.3,88.2 375.3,82 375.5,113.1 375.5,113.1 375.6,86.2 375.7,95.7 375.8,72.9 375.8,78.8 375.9,96.5 376,86.8 376.1,116.8 376.1,103.8 376.2,44.7 376.4,41 376.4,114.4 376.5,118.1 376.6,144.8 376.6,133.2 376.8,40.6 376.9,40.5 376.9,45.4 377,41.5 377,102.6 377.1,74.3 377.2,51 377.3,54.3 377.4,102.4 377.4,81.8 377.5,97.8 377.6,63.9 377.7,103.1 377.8,83.8 377.9,104.7 377.9,99 378.1,65.7 378.1,81.8 378.1,71.1 378.2,66.2 378.3,110.8 378.4,105.3 378.5,42 378.6,44.6 378.7,41.5 378.7,64.1 378.8,87.5 378.9,78.9 379,44.5 379.1,62.1 379.2,88.5 379.3,92.2 379.4,113.3 379.4,104.7 379.5,151.4 379.5,160.7 379.7,148.6 379.7,155.6 379.8,112.8 379.9,104.4 380,118.4 380,120.2 380.1,88 380.2,79.2 380.3,106.5 380.4,105 380.5,147 380.5,146.9 380.6,128.2 380.7,140.5 380.8,118.9 380.8,117.6 380.9,92.5 381,100.8 381.1,71.6 381.2,66 381.2,91.1 381.3,68.9 381.4,96 381.5,103.5 381.6,65.7 381.7,55.6 381.8,69.4 381.8,73.2 381.9,110.6 382,117 382,86.8 382.2,91.3 382.2,100.5 382.4,112.1 382.4,94.5 382.5,84.4 382.5,94.3 382.6,83 382.7,103.6 382.8,74.7 382.9,98.1 382.9,93.2 383.1,120.9 383.2,113.7 383.2,85.9 383.3,87 383.4,69.9 383.5,72.6 383.6,98.3 383.6,94.4 383.7,119.6 383.8,136.3 383.9,78.6 384,83.5 384.1,112.8 384.1,117.2 384.2,158.9 384.3,148.6 384.4,135.1 384.4,130.1 384.5,153.5 384.6,149 384.7,130 384.7,129.8 384.8,93.2 384.9,107 385,72 385.1,58.8 385.2,84.8 385.2,94.5 385.3,117.6 385.4,101.8 385.5,46.6 385.5,71.3 385.7,120 385.7,110.2 385.8,138.8 385.9,94.1 385.9,70.7 386,56.7 386.2,90.3 386.2,87.1 386.3,105.2 386.4,91 386.5,123.9 386.5,131.7 386.6,111.7 386.7,118.7 386.8,94.6 386.9,107.1 387,127.8 387,138.1 387.1,121.6 387.2,118 387.3,86.6 387.4,89.9 387.4,80.6 387.5,103.6 387.6,79 387.6,86.2 387.8,101 387.9,111.5 387.9,91.5 388,92.5 388.1,77.1 388.2,109.5 388.2,47.3 388.4,48.8 388.4,76.7 388.5,54.7 388.6,130.8 388.6,140.1 388.7,99.4 388.8,103.7 388.9,131.4 389,161.8 389.1,130.3 389.2,145.7 389.2,113.8 389.3,146.2 389.4,111.9 389.4,111.5 389.6,83.9 389.6,85.6 389.7,93.7 389.8,82.5 389.9,112.3 389.9,116.2 390,138.2 390.1,121.6 390.2,100.7 390.2,81.6 390.4,111 390.5,104.2 390.5,120.6 390.6,122.5 390.7,101.1 390.8,113 390.8,131.9 390.9,116.9 390.9,143.2 391.2,147.6 391.2,126.4 391.3,152.6 391.3,122.1 391.4,122.7 391.5,101.1 391.6,82.1 391.6,100.8 391.7,81.6 391.8,95.5 391.9,82.5 392,136.3 392,127.8 392.1,118.4 392.2,121.1 392.3,62.8 392.3,71.2 392.5,56.4 392.5,64.6 392.6,73.9 392.7,42.7 392.8,124.1 392.8,143.1 392.9,168.6 393,141.4 393.1,90.7 393.2,73.8 393.3,91.2 393.4,95 393.4,111.1 393.5,113 393.5,125.8 393.7,120.4 393.8,92.2 393.8,98.8 393.9,119 394,101.2 394.1,136.9 394.2,130.4 394.3,148 394.4,114.4 394.4,139.7 394.5,146.1 394.5,167.3 394.6,149.9 394.8,120 394.8,121.9 394.9,78.8 394.9,88.7 395,112.8 395.1,108.1 395.2,140 395.3,127.9 395.3,117.9 395.5,97.7 395.6,144.8 395.6,143.2 395.6,168.1 395.8,145.3 395.9,111.1 395.9,89 396,123.3 396.1,105.5 396.2,128.1 396.2,120.4 396.3,131.6 396.4,118.4 396.5,107.2 396.6,110.6 396.6,96.4 396.8,107.6 396.9,70 396.9,74.8 397,108.8 397,113.9 397.1,83 397.3,110.1 397.3,128.5 397.4,143.7 397.5,116.5 397.6,128.2 397.6,107.3 397.8,124.6 397.8,86.3 397.9,77.4 398,41.1 398,48.6 398.2,126.9 398.2,132.4 398.3,109.4 398.3,108.1 398.4,85.5 398.5,108.9 398.5,118.3 398.7,113.8 398.7,126.1 398.9,139.7 399,119.6 399,118.1 399.1,91.5 399.2,81.4 399.3,135 399.3,118 399.4,150.8 399.5,119.3 399.6,103.6 399.6,98.2 399.7,124.3 399.8,127.2 399.9,150.2 400,138.1 400.1,112.9 400.2,97.1 400.3,113.2 400.3,118.7 400.4,140.4 400.5,144.8 400.6,85 400.7,60.2 400.8,109.6 400.9,86.3 400.9,112 401,90.8 401.1,109.8 401.1,135.1 401.2,111.2 401.3,116.4 401.4,93.8 401.5,101.1 401.6,115.3 401.6,128 401.7,93.5 401.7,110.4 401.8,141.9 401.9,152.4 402,124.9 402.1,128 402.2,117.4 402.3,131.9 402.3,108.1 402.4,105.2 402.5,120 402.6,90.3 402.7,116.3 402.7,92.1 402.9,141.1 402.9,123.4 403,143.6 403,149.6 403.1,118.8 403.2,141.7 403.3,115.4 403.4,148.7 403.5,118.1 403.6,133 403.6,109.7 403.7,123.6 403.8,143.2 403.9,134.1 404,191 404,171.5 404.2,84.4 404.3,93.9 404.3,82.4 404.3,87.8 404.4,113.3 404.5,129.9 404.6,88.6 404.7,93.5 404.8,101 404.8,98.9 404.9,161.7 405,127.9 405.1,145.2 405.2,126.7 405.3,140.4 405.3,145.7 405.5,107.8 405.5,123.1 405.6,102.1 405.7,114.9 405.7,132.9 405.9,127.6 405.9,111.7 406,111.7 406.1,89.9 406.1,97.4 406.3,85.1 406.3,90.2 406.4,124.7 406.4,116.3 406.6,145.1 406.7,103.9 406.7,125.4 406.8,112.2 406.9,125.6 407,127 407.1,110.6 407.2,129 407.2,109.1 407.3,96.5 407.4,107.6 407.4,109 407.5,160.6 407.6,141.3 407.7,149.8 407.7,133.6 407.8,112.9 408,97.1 408,122.1 408.1,120.3 408.2,149.6 408.3,142.9 408.4,122.7 408.4,121.1 408.5,138 408.6,135.7 408.7,87.2 408.7,86 408.8,61.8 408.9,79.1 409,101.5 409.1,105.9 409.1,58.8 409.2,58.5 409.3,57.6 409.4,57.6 409.5,74 409.5,79.9 409.6,117.4 409.8,110.7 409.8,95 409.9,77.1 410,99.4 410,91 410.2,129.2 410.3,129.3 410.3,154.1 410.4,152.5 410.4,122.6 410.5,142.8 410.6,86 410.7,96.1 410.7,73.3 410.8,85.4 411,101.5 411,116.8 411.1,148.1 411.2,173.9 411.3,141 411.4,144.6 411.4,105.2 411.5,107.8 411.6,133.6 411.6,132.6 411.7,155.5 411.9,142.1 411.9,127.3 412,138.3 412.1,154 412.1,145 412.2,97.3 412.3,102.4 412.4,76.9 412.4,85.3 412.5,109 412.7,83.6 412.7,99.5 412.8,88.5 412.9,130.8 413,148.8 413.1,135.8 413.1,137.1 413.2,117.1 413.3,109.5 413.3,129.4 413.4,111.9 413.5,137.9 413.6,136.2 413.7,150.3 413.7,149.2 413.8,72.4 414,80.6 414,151.3 414.1,158.7 414.2,145.5 414.3,142.1 414.4,99.3 414.4,88.6 414.5,102.8 414.6,103.2 414.6,130.6 414.7,136.5 414.9,119.9 414.9,139 415,132.3 415.1,127.6 415.2,146.8 415.3,164 415.3,152.8 415.4,161.8 415.5,140.8 415.6,136.3 415.7,110.2 415.8,114.2 415.8,100.2 415.9,98.6 416,127.3 416,128.9 416.1,61.2 416.2,64.8 416.3,61.3 416.3,71 416.5,158.5 416.5,145.8 416.6,158.7 416.7,146.8 416.8,156.3 416.8,149.4 417,119.7 417,121.7 417.1,97.7 417.1,118.1 417.3,142.6 417.4,160.3 417.4,151.2 417.5,159.5 417.6,145.4 417.7,152.8 417.8,160.5 417.8,145.1 417.9,165.5 418.1,155.5 418.1,174.4 418.2,164.9 418.3,151.3 418.3,146.3 418.4,80.6 418.4,69.6 418.6,103.8 418.6,166.4 418.7,153.7 418.8,162.4 418.8,127.7 419,139.3 419.1,107.6 419.1,106.2 419.2,81.9 419.3,86.1 419.4,128.2 419.5,140.8 419.6,112.3 419.6,112.3 419.7,88.1 419.7,94.5 419.9,133.8 419.9,128.7 420,148.1 420.1,133.4 420.2,150.1 420.2,143.6 420.4,117.1 420.4,119.6 420.5,125.1 420.6,135.9 420.7,121.1 420.7,113.6 420.8,135 420.9,132.2 421,155.8 421,162.1 421.1,150.8 421.2,144 421.3,107 421.4,105 421.4,78.1 421.5,92.3 421.6,112.3 421.7,116.4 421.8,100.8 421.8,106 422,122.4 422,106.9 422.1,72.6 422.2,63.7 422.3,88.9 422.3,66.1 422.4,93.6 422.5,64.3 422.6,114.6 422.7,101.9 422.8,166.2 422.8,182.1 423,148.4 423,157.9 423,136.3 423.3,122.9 423.3,137.6 423.3,127.7 423.4,118.8 423.5,132 423.6,117 423.7,105.8 423.8,132.8 423.8,133.3 423.9,183.6 424,212.7 424.1,171.5 424.1,161 424.2,132.2 424.3,150.4 424.4,114.2 424.5,126.4 424.5,106.1 424.6,118.2 424.7,157.1 424.8,163.3 424.9,151 424.9,134.3 425,149 425.1,149.7 425.2,171.6 425.3,158.6 425.3,180.2 425.4,151.1 425.5,114.1 425.6,99.3 425.7,114.6 425.7,133.5 425.9,162.5 425.9,161.9 426,137.7 426.1,131.4 426.1,147.1 426.3,167.8 426.4,125.3 426.4,119.5 426.5,81.3 426.5,97.6 426.7,155.4 426.8,159.8 426.8,147.2 427,124.3 427,136.6 427,123.1 427.2,141.4 427.2,134.9 427.3,123.9 427.4,137.1 427.5,154.9 427.5,164 427.7,139.8 427.7,169 427.8,138.8 427.8,138.6 428,99.7 428,105.4 428.1,122 428.2,128 428.2,147.6 428.3,154.1 428.4,192 428.6,202.4 428.6,181.9 428.7,176.5 428.8,148.2 428.9,118.8 428.9,136.1 429,112.5 429.1,139.6 429.1,141.2 429.2,119.6 429.3,110 429.4,146.2 429.5,158.5 429.6,223.6 429.6,207.5 429.8,132.5 429.8,135 429.9,167 430,181.9 430,168.6 430.2,181.2 430.2,142.3 430.3,139.4 430.4,107.3 430.4,97.4 430.6,167.9 430.6,161.6 430.7,87.3 430.8,116.4 430.9,131.9 431,114.2 431.1,149.8 431.1,155.9 431.2,139.2 431.2,132.7 431.3,168.1 431.5,147.7 431.5,133.7 431.6,119.4 431.7,145.2 431.8,171.2 431.9,135.8 431.9,148.3 432,160.2 432.1,155.1 432.2,129.7 432.3,138.5 432.4,132.7 432.4,144.2 432.5,177.9 432.5,177.1 432.7,152 432.7,159.6 432.8,143.8 432.9,150.2 433,167.4 433,156.4 433.1,173.7 433.2,176.8 433.3,129.3 433.4,121.2 433.5,140.6 433.5,176.1 433.7,143 433.7,147.3 433.8,93.6 433.8,96.7 434,140.7 434.1,173.8 434.1,127.4 434.2,113.5 434.3,135.5 434.3,120.6 434.4,171.5 434.5,185.5 434.6,168.5 434.7,159.4 434.7,175.5 434.8,151.8 434.9,133.5 435,131.6 435.1,165.4 435.1,182 435.2,162.1 435.3,145.3 435.4,121 435.5,109 435.6,124.5 435.7,111.4 435.8,143.8 435.8,158.2 435.9,132.9 436.1,143.8 436.1,164.2 436.1,162 436.2,188 436.3,153 436.4,179.9 436.4,173.4 436.5,206.2 436.6,177.5 436.7,203.5 436.8,170 436.9,72.5 436.9,90.1 437.1,169.2 437.2,193.5 437.2,176.8 437.3,182.9 437.4,158.9 437.4,153.4 437.5,167.1 437.6,170.8 437.7,157.4 437.8,144.1 437.8,165.2 437.9,175.2 437.9,158.6 438.1,137.7 438.1,156.1 438.2,155.5 438.4,183.9 438.4,186.1 438.5,153.7 438.5,159 438.6,125.2 438.7,161.5 438.8,134.4 438.9,145.2 439,132.6 439,137.2 439.1,158.2 439.2,153.2 439.3,93.8 439.4,93.8 439.5,100.9 439.5,104.6 439.6,177 439.7,171.3 439.8,155.6 439.8,156 440,129.8 440,128.6 440.1,164.1 440.2,161.9 440.3,179.3 440.3,175.8 440.4,95.4 440.5,96.7 440.5,95.6 440.6,95.8 440.8,165.3 440.8,167.8 440.9,185.8 441,189 441.1,164.4 441.2,171.8 441.3,187 441.4,183.6 441.4,127.9 441.5,72.5 441.6,131.5 441.6,141.9 441.7,163.1 441.8,163.2 441.9,192.1 442,216.3 442.1,193 442.1,179.8 442.2,144.4 442.3,161.7 442.4,229.1 442.4,215.1 442.5,178.9 442.6,197 442.7,173.5 442.8,161.7 442.9,191.6 442.9,185 443.1,142 443.1,127.9 443.2,154.8 443.2,163.9 443.4,211.9 443.4,192.4 443.5,205 443.6,173 443.7,188.4 443.8,174.8 443.9,167.7 443.9,181 444,215.3 444.1,211.7 444.2,185.8 444.2,178.4 444.3,149.2 444.4,154.6 444.5,176.4 444.5,165.3 444.6,134.6 444.7,131 444.8,159.2 444.9,183.6 445,150.6 445,163.2 445.2,139.9 445.2,156.2 445.2,184.5 445.4,174 445.5,143.4 445.5,158.3 445.6,188.8 445.8,201.7 445.8,170 445.8,172.9 445.9,155 446,151.1 446.1,174.8 446.2,174.9 446.2,157.6 446.4,158.4 446.5,173.9 446.5,169.3 446.5,151.8 446.6,174.2 446.8,159.4 446.8,179.8 446.9,157.8 447,170 447.1,143.2 447.2,126.4 447.3,149.4 447.3,192.8 447.4,113.5 447.5,138.8 447.6,107 447.6,106.9 447.7,192.4 447.9,194.7 447.9,170.8 447.9,164.1 448,145.8 448.1,167.5 448.2,184.1 448.3,193.8 448.4,173.1 448.4,169.9 448.5,150.4 448.6,147.6 448.6,126.4 448.8,153 448.8,107.6 448.9,107.7 449,107.8 449.1,125.7 449.2,166.3 449.3,168.3 449.4,108.6 449.4,108.1 449.5,108.4 449.6,108.2 449.6,152.9 449.8,133.2 449.9,174 449.9,182.9 450,206.4 450,205.1 450.2,146.4 450.2,147.8 450.3,129.4 450.4,144.4 450.5,186.9 450.5,187.3 450.7,196.1 450.7,196.5 450.8,184.2 450.9,180.6 451,161.5 451,159 451.1,173.9 451.3,176.8 451.3,162.4 451.3,159 451.5,210.1 451.5,221.8 451.6,186.9 451.7,196.2 451.8,228.5 451.9,234.1 452,199.5 452,185.2 452.1,127.6 452.2,133 452.3,175.5 452.3,183.6 452.4,154.2 452.5,154 452.6,193.6 452.6,202.2 452.8,179.7 452.8,183.1 452.9,163.8 453,166.7 453.1,180.4 453.2,186.6 453.2,201.8 453.3,189.7 453.3,175.8 453.5,168 453.6,190.5 453.6,195.9 453.7,166.1 453.8,183.3 453.9,160.9 454,173.1 454.1,190.1 454.1,186.9 454.2,206.6 454.3,203 454.4,170.5 454.5,171.1 454.5,148.8 454.7,159.8 454.7,141.1 454.7,139.9 454.8,124.1 454.9,142.1 455,215.3 455.1,234.1 455.2,212.4 455.2,205.5 455.4,176.2 455.5,179.9 455.5,162.3 455.6,157.8 455.7,178 455.7,186.1 455.8,200 455.9,199.3 456,173.7 456.1,173.8 456.2,161 456.2,183.9 456.3,169.5 456.5,184 456.5,166.9 456.6,185.1 456.7,140.8 456.7,86.2 456.8,147.7 456.9,163 457,193.2 457.1,186.3 457.2,210 457.2,212.2 457.3,186.2 457.4,181 457.5,141.3 457.5,174.4 457.6,166 457.7,194.9 457.8,168.9 457.9,172.5 458,153.1 458,153.6 458.1,179.9 458.2,178.8 458.3,147.3 458.4,148.2 458.5,163.1 458.5,166.5 458.6,203.9 458.7,229.1 458.8,205.4 458.8,205.4 458.9,186.6 459,192.9 459.1,152.7 459.2,169 459.3,188.6 459.3,194.4 459.4,179.9 459.5,164 459.6,181.6 459.6,181.7 459.7,194.6 459.8,192.6 459.9,124.8 459.9,130 460,118.4 460.2,119 460.2,182.4 460.3,176.4 460.3,151.1 460.5,167.6 460.5,174 460.6,187 460.7,227 460.7,216 460.8,227.1 460.9,215.6 461,165.2 461.1,167.5 461.2,189.5 461.3,194.3 461.4,179 461.4,154.2 461.5,183 461.6,187.5 461.7,212.2 461.7,204.2 461.8,177.7 461.9,204.9 462,185.5 462,200.7 462.1,190.1 462.2,178.8 462.3,198 462.4,195.6 462.4,207.4 462.6,205 462.7,195.8 462.7,206.8 462.8,187.4 462.9,212.9 463,176.6 463,196.5 463.2,164.9 463.2,164.4 463.3,184.1 463.4,190.8 463.5,166.5 463.5,159 463.6,86.2 463.7,123.7 463.8,192.9 463.8,180 463.9,140.9 464.1,128 464.1,157 464.2,185.8 464.3,153.5 464.4,173 464.4,199.8 464.5,227.8 464.6,191.9 464.6,203.5 464.7,182.8 464.8,185.8 464.9,240 465,237.6 465.1,227.6 465.2,200.3 465.2,165.7 465.3,167.1 465.4,184.1 465.4,185 465.6,204.4 465.6,207.3 465.7,173.6 465.8,166.6 465.9,141.2 466,142.9 466.1,158.5 466.1,161.9 466.2,195.9 466.3,203.7 466.4,177 466.4,163.3 466.6,178.4 466.6,190.6 466.7,228.9 466.7,236.2 466.9,158.5 467,141 467,200.9 467.1,213.6 467.1,197.5 467.2,202 467.4,171.4 467.4,179.7 467.5,142.1 467.6,141.6 467.7,153.7 467.7,147.4 467.9,131 467.9,124.3 468,143.8 468,154.9 468.2,192.5 468.2,198 468.3,180.1 468.4,197.5 468.5,167.4 468.6,173.2 468.6,157.1 468.7,156.3 468.8,185.2 468.9,183.6 469,163.6 469,148.4 469.1,178.3 469.2,185.6 469.3,198.6 469.3,183 469.4,164.3 469.6,161.6 469.6,179.2 469.7,182.6 469.8,152.7 469.9,158.1 469.9,168.4 470,164.1 470.1,172.6 470.1,175.4 470.3,195.7 470.3,208.5 470.4,188.7 470.5,178.3 470.6,155.1 470.7,153 470.7,127 470.8,126.9 470.9,162.1 471,145.4 471.1,182.1 471.1,169.5 471.3,186.8 471.3,166.7 471.4,187.3 471.4,174.8 471.6,204.2 471.6,199 471.7,175.9 471.8,182.7 471.8,163.3 472,188.4 472,200.7 472.1,211.1 472.2,184.1 472.3,176.6 472.3,191 472.5,145.9 472.6,169.2 472.6,158.1 472.7,202 472.8,214.9 472.8,192.5 472.9,199.1 473,225.6 473.1,221.3 473.2,142.6 473.2,134.1 473.3,150.8 473.4,143.7 473.5,188.3 473.6,186 473.7,141.7 473.7,145.4 473.8,162 473.9,139.4 474,169.2 474.1,161.6 474.2,190.5 474.2,198.3 474.3,180.7 474.4,181.7 474.5,161.1 474.6,214.6 474.7,159.7 474.8,178.4 474.8,156.4 474.9,127.9 474.9,189.6 475,176.4 475.1,193.9 475.2,202.7 475.3,187.3 475.3,190.6 475.4,167.4 475.6,188.8 475.6,166.4 475.7,163.2 475.8,146.7 475.8,142.5 475.9,172 476,171.2 476,198.8 476.2,166.4 476.3,194.8 476.3,170 476.4,186 476.5,151.1 476.6,180.9 476.6,180.2 476.8,199.4 476.8,204.2 476.9,157.9 477,141.1 477.1,170.5 477.1,165.7 477.2,188.6 477.4,143.4 477.4,183.6 477.4,172.5 477.6,201.1 477.6,205.5 477.7,162.6 477.8,170.9 477.8,144.9 477.9,152.8 478,169.2 478.2,178.5 478.2,223 478.3,215.6 478.4,207.6 478.4,218.2 478.5,175.8 478.6,191 478.6,176.8 478.8,156.1 478.9,176.8 479,177.8 479,190.6 479.1,209.1 479.2,194.4 479.2,209.5 479.3,226.9 479.4,225.6 479.5,198.4 479.6,204.9 479.6,194.3 479.7,211.4 479.8,150.4 479.9,157.5 480,141.7 480,181.9 480.1,197.7 480.2,195 480.3,152.1 480.4,159.3 480.4,161.4 480.5,177.1 480.7,152.9 480.7,149.8 480.8,179.9 480.9,174.2 481,201.3 481.1,178.2 481.1,206.2 481.2,193.8 481.2,166.2 481.3,171.8 481.4,149.9 481.5,172.8 481.5,197.7 481.7,210.5 481.8,178.3 481.9,196.3 482,119.4 482,120.5 482.1,118.7 482.2,118.5 482.2,176.4 482.3,177 482.4,238 482.5,208.1 482.6,180 482.7,199.5 482.8,181.6 482.8,200.7 482.9,183.4 483,179.4 483.1,171.1 483.2,168.9 483.2,154.4 483.3,165.3 483.4,143.5 483.5,149.3 483.5,178.2 483.6,177.4 483.7,116.1 483.8,115.3 483.9,173.5 483.9,180.6 484,144.4 484.1,173.8 484.2,155.9 484.2,175.1 484.3,186.5 484.4,175 484.5,196.3 484.6,190.7 484.7,173.2 484.8,181.5 484.8,169.2 485,176.5 485,151.6 485.1,164.3 485.1,147 485.3,150.5 485.4,176.1 485.5,170.4 485.5,183.5 485.5,190.4 485.6,176.8 485.7,189.4 485.8,170.6 485.9,176.6 485.9,157 486,182.6 486.1,206 486.2,184.4 486.3,145.8 486.4,131.9 486.5,175.5 486.5,147.6 486.7,177.8 486.7,164.4 486.8,180.7 486.8,185.1 487,147.3 487,155.3 487.1,182.1 487.2,191.1 487.3,173.4 487.3,178.5 487.5,122.6 487.5,121.6 487.6,151 487.7,144.4 487.8,170 487.8,172.1 487.9,139.5 488,149.1 488.1,166 488.2,169.4 488.2,186.7 488.3,179 488.4,154.5 488.5,162.8 488.6,104 488.7,104.4 488.8,176.7 488.8,180.7 488.9,157 489,165.2 489.1,142.4 489.2,135.4 489.2,155.7 489.3,146 489.4,186.8 489.5,202.7 489.6,217 489.6,225.3 489.7,158.7 489.8,141.9 489.9,157.6 489.9,156.5 489.9,148.5 490.2,144.5 490.2,125.3 490.3,114.5 490.4,141.1 490.4,142.9 490.5,174.3 490.6,172.4 490.6,181.5 490.7,179 490.9,195.9 490.9,188 490.9,211.9 491.1,211 491.2,147.7 491.3,172.2 491.3,145.5 491.4,159.2 491.5,178.2 491.5,164.1 491.6,190.7 491.8,146.9 491.8,187.5 491.9,186.2 492,203.6 492,198.4 492.2,133.5 492.2,150 492.3,172.2 492.4,165.1 492.4,180.9 492.5,165.6 492.6,182.5 492.7,173.1 492.8,128.6 492.8,131 493,173.6 493.1,180.7 493.1,204.1 493.2,187.9 493.2,172.3 493.4,164.9 493.4,186.1 493.6,189.3 493.6,203.9 493.7,183.2 493.8,165.1 493.8,170.7 493.9,135.7 494,149.3 494.1,131 494.2,149.3 494.3,159.2 494.4,182.7 494.4,137.4 494.5,138.7 494.5,155 494.7,132.6 494.7,142.5 494.8,105.9 494.9,151.6 494.9,183.6 495,212.7 495.2,160.8 495.2,171.5 495.3,153.9 495.4,173.5 495.4,155.4 495.6,138.9 495.6,130.8 495.7,139.9 495.8,131.1 495.8,161 495.9,139 496.1,163.4 496.1,152.7 496.1,179.5 496.2,181.9 496.4,195.9 496.4,191.8 496.5,166.9 496.6,175.9 496.7,192.4 496.7,184.5 496.9,157.4 496.9,156.1 497,92.5 497.1,86.7 497.2,94.2 497.3,154.7 497.3,86.2 497.4,91.9 497.5,85 497.6,85.7 497.6,150.7 497.7,149.5 497.8,131.6 497.9,162.8 498,151.2 498,148.5 498.1,173.8 498.3,159.7 498.3,182.7 498.4,191.1 498.4,153.4 498.5,172.3 498.6,140.8 498.7,135.6 498.7,145.2 498.8,144.9 499,177.6 499.1,171.2 499.1,154 499.2,150.2 499.3,179.3 499.3,173.5 499.5,152.4 499.5,139.4 499.6,58.9 499.6,113.1 499.8,166.9 499.8,169.8 499.9,153.1 500,163.2 500.1,143.7 500.1,147.8 500.2,158.7 500.3,167.2 500.4,137.9 500.5,94.7 500.5,116.5 500.7,83.6 500.7,141 500.8,126.5 500.9,153.1 500.9,151.5 501.1,172.8 501.2,175.5 501.2,158.9 501.3,158.8 501.3,153.1 501.5,158.7 501.5,170.7 501.6,158.3 501.7,141.4 501.8,114.7 501.9,133.1 501.9,125 502.1,169.9 502.1,174.8 502.2,152.3 502.2,140.2 502.4,103.4 502.5,112.3 502.5,129.8 502.6,140.4 502.6,155.6 502.8,167.4 502.9,145.1 502.9,132.3 503,72 503,92.9 503.2,135.7 503.2,133.9 503.3,160.9 503.4,176.7 503.4,154.4 503.5,158.4 503.6,138.8 503.7,159.9 503.8,171.9 503.9,174.3 504,186 504,175.3 504.2,150.8 504.2,130.3 504.3,117.8 504.3,134.9 504.4,110.6 504.6,110.5 504.6,141.9 504.7,143.9 504.7,135.9 504.8,125.4 504.9,70 505,72.7 505.1,114.1 505.2,145 505.2,126.5 505.4,144 505.4,135.9 505.5,146.1 505.6,169.3 505.7,173 505.8,155.1 505.8,139.2 505.9,166 506,189 506.1,145.4 506.1,140.4 506.3,66 506.3,66.1 506.4,65.2 506.5,65.2 506.5,120.7 506.6,112.5 506.8,95.2 506.8,93 506.9,82.7 506.9,80.6 507.1,118.4 507.1,110.8 507.2,147.9 507.3,145.1 507.4,127.8 507.4,134.6 507.5,102.4 507.6,122.3 507.7,166.2 507.8,160.9 507.9,141.8 508,121.7 508,141.2 508.1,123.9 508.2,135.8 508.2,124.2 508.3,108 508.4,125.9 508.5,111 508.7,135.1 508.7,146.7 508.7,156.6 508.9,120.7 508.9,124.8 509,104.3 509.1,107.6 509.2,127.1 509.3,102 509.3,126.7 509.5,125.8 509.5,113 509.6,146 509.7,124.8 509.7,123.3 509.8,101.4 509.9,95.3 510,113.8 510,116.7 510.2,124.9 510.2,134.6 510.2,111.5 510.3,112.6 510.4,67.2 510.5,68.3 510.6,131.9 510.7,146.2 510.8,141.4 510.9,119.4 510.9,142.5 511,114.6 511.1,148.4 511.2,137.6 511.3,108.7 511.3,111.7 511.4,91.9 511.5,86.9 511.6,65.2 511.6,65.3 511.8,78.7 511.8,120.5 511.9,140 512,126.2 512,116.3 512.1,118.7 512.2,132.1 512.3,119.5 512.4,69.3 512.5,76.8 512.6,100.2 512.6,111.1 512.7,101 512.8,116.8 512.9,107.4 513,120.7 513,106.6 513.1,110.5 513.2,138 513.4,123.9 513.4,139.3 513.5,109 513.6,128.7 513.6,109.2 513.7,129.8 513.9,133.1 513.9,114.4 514,108.9 514,136.4 514.1,114.6 514.2,141.5 514.3,156.5 514.3,137 514.4,143.7 514.5,120.9 514.6,138.8 514.7,128.6 514.7,140.6 514.8,117.1 514.9,119.6 515,86.1 515.1,68.4 515.2,84.4 515.2,70.4 515.3,94.5 515.4,93.3 515.5,84.5 515.5,79.2 515.6,63 515.7,73.9 515.7,94 515.9,65.9 516,65.1 516.1,65.7 516.1,65.1 516.2,65.1 516.3,65.1 516.3,65.1 516.4,90 516.5,70.8 516.6,96.3 516.7,115.3 516.8,93.3 516.8,104.4 516.9,127.4 517,114.6 517.1,129.4 517.2,109 517.3,121 517.3,118.4 517.3,101.5 517.5,103.3 517.6,118 517.7,99.5 517.7,132.6 517.8,118.2 517.9,146.3 518,116.8 518.1,83.1 518.2,70.9 518.3,108.2 518.3,91 518.4,112 518.5,118.3 518.6,94.7 518.6,106 518.7,76.4 518.8,91 518.9,123 518.9,108.6 519.1,126.4 519.1,135.2 519.2,96 519.3,92.8 519.4,67.8 519.4,73.4 519.6,120.9 519.6,123.4 519.7,144.6 519.8,109.3 519.9,123.8 519.9,102 520,138.4 520.1,160.8 520.2,146.6 520.3,184.1 520.3,157.4 520.5,186.7 520.5,181.6 520.6,158.8 520.6,177 520.7,165.6" stroke="#4670bc" stroke-opacity="0.5"/>
<path d="M78.4,277.5 78.6,268.3 78.7,255.8 78.9,251.4 79,247 79.2,238.2 79.4,231.4 79.5,224 79.7,218.9 79.9,214.5 80,210 80.2,198.9 80.3,193.2 80.5,187.1 80.7,183.2 80.8,175.9 81,172.4 81.2,167.3 81.3,169.2 81.5,168.6 81.6,166.9 81.8,167.1 82,169.4 82.1,167.3 82.3,169.8 82.5,165.9 82.6,160.2 82.8,156.5 82.9,153.1 83.1,150.7 83.3,147.8 83.4,151.8 83.6,153.5 83.7,147.1 83.9,151.7 84.1,147.7 84.2,145.4 84.4,138.3 84.6,140.4 84.7,133.3 84.9,133.6 85,128.7 85.2,128.6 85.4,127 85.5,126.3 85.7,132.8 85.9,136.6 86,135.5 86.2,130.5 86.3,128.8 86.5,128.8 86.7,123.9 86.8,120.6 87,118.2 87.2,113.1 87.3,111.4 87.5,114.9 87.6,113 87.8,116.7 88,117.1 88.1,116 88.3,112.4 88.4,110.4 88.6,109.3 88.8,110.8 88.9,113 89.1,108.6 89.3,104.5 89.4,106.3 89.6,111.4 89.7,113.9 89.9,115.7 90.1,115.8 90.2,112.4 90.4,107.5 90.6,105.8 90.7,107.1 90.9,106.6 91,113.2 91.2,111.9 91.4,106.9 91.5,106.9 91.7,105.3 91.9,109.1 92,110.6 92.2,107.8 92.3,107 92.5,103.2 92.7,105.3 92.8,103.1 93,101.6 93.1,103.3 93.3,106.7 93.5,107 93.6,103.3 93.8,102 94,99.8 94.1,94.3 94.3,96.5 94.4,97.6 94.6,99.4 94.8,97.1 94.9,99.3 95.1,104.8 95.3,101.7 95.4,103.6 95.6,105.3 95.7,106.1 95.9,105.6 96.1,103.7 96.2,104.7 96.4,101.6 96.6,105.1 96.7,112.8 96.9,116.1 97,112.9 97.2,116.9 97.4,119.3 97.5,118.5 97.7,117.3 97.8,118.2 98,113.1 98.2,114.4 98.3,116.6 98.5,121.2 98.7,117.1 98.8,118.4 99,118.9 99.1,127.1 99.3,128.7 99.5,127.2 99.6,127.8 99.8,130.7 100,126.5 100.1,123.7 100.3,130 100.4,127.9 100.6,126.2 100.8,133.4 100.9,132.2 101.1,128 101.3,125.3 101.4,125.2 101.6,125.2 101.7,121.2 101.9,115.9 102.1,112.5 102.2,111 102.4,109.1 102.5,108.1 102.7,109.6 102.9,111.6 103,114 103.2,114.2 103.4,112 103.5,111.4 103.7,113.6 103.8,115.2 104,119.4 104.2,125.2 104.3,122.8 104.5,126.1 104.7,127.9 104.8,132.1 105,132.7 105.1,130.4 105.3,132 105.5,132.7 105.6,132.9 105.8,131.1 106,130.5 106.1,128.9 106.3,129.4 106.4,133.1 106.6,134.9 106.8,128.4 106.9,131.3 107.1,135.2 107.3,134.4 107.4,133.3 107.6,134.7 107.7,137.6 107.9,138.5 108.1,142.2 108.2,137.4 108.4,132 108.5,135.9 108.7,134.3 108.9,136.1 109,136.7 109.2,138.7 109.4,137.3 109.5,133.9 109.7,129.6 109.8,129.9 110,131.9 110.2,132.6 110.3,128.1 110.5,125 110.7,122.5 110.8,127.7 111,126.6 111.1,129.1 111.3,124.4 111.5,121.6 111.6,118.2 111.8,118.5 112,114.3 112.1,117.4 112.3,117.8 112.4,119.8 112.6,121.4 112.8,118.5 112.9,120.5 113.1,122.3 113.2,120.8 113.4,117.1 113.6,116.7 113.7,123.3 113.9,122.8 114.1,123.6 114.2,128.4 114.4,125.7 114.5,124.5 114.7,129.9 114.9,134.3 115,132.9 115.2,128 115.4,129.1 115.5,129.8 115.7,131.7 115.8,129.2 116,130.9 116.2,128.3 116.3,126.6 116.5,124.4 116.7,123.7 116.8,123.6 117,121.3 117.1,119.7 117.3,120.1 117.5,117.3 117.6,113.9 117.8,112.3 117.9,112.4 118.1,109.6 118.3,105.4 118.4,109.1 118.6,113.1 118.8,118.3 118.9,117.1 119.1,118.6 119.2,119.1 119.4,130.2 119.6,131 119.7,126.6 119.9,125.1 120.1,128.3 120.2,123.2 120.4,126.5 120.5,128.9 120.7,127.3 120.9,128.2 121,127.5 121.2,126 121.4,124.2 121.5,122.2 121.7,119.3 121.8,117.1 122,119.5 122.2,113.7 122.3,119.8 122.5,122.5 122.6,124.3 122.8,119.8 123,122.2 123.1,123.6 123.3,123.6 123.5,124.7 123.6,127.8 123.8,126.6 123.9,123.4 124.1,120.3 124.3,131.4 124.4,133.3 124.6,135.6 124.8,132.6 124.9,126.7 125.1,125.6 125.2,124.9 125.4,127.1 125.6,124.1 125.7,126.7 125.9,124.5 126.1,124.1 126.2,125.1 126.4,123.4 126.5,127.3 126.7,124.6 126.9,124.2 127,122.1 127.2,118.3 127.3,112.5 127.5,116.4 127.7,121.3 127.8,121.5 128,120.7 128.2,125.7 128.3,125.9 128.5,121.5 128.6,122.6 128.8,125.7 129,121.2 129.1,120.6 129.3,118.4 129.5,122.1 129.6,120.6 129.8,122.9 129.9,123.2 130.1,122.6 130.3,119.6 130.4,118.9 130.6,113.8 130.8,114 130.9,106 131.1,106.1 131.2,104.4 131.4,102.6 131.6,104 131.7,102.3 131.9,103 132,106.8 132.2,100.6 132.4,104 132.5,104 132.7,106.5 132.9,107.3 133,102.6 133.2,101 133.3,98.6 133.5,102 133.7,104.6 133.8,109.1 134,108.7 134.2,106.7 134.3,105.3 134.5,102.1 134.6,102 134.8,100.9 135,104.7 135.1,103.1 135.3,102.9 135.5,100.2 135.6,103.4 135.8,103.1 135.9,106 136.1,103.9 136.3,99.6 136.4,100.8 136.6,95.9 136.7,99.9 136.9,106.5 137.1,106.6 137.2,108.7 137.4,105.5 137.6,105.3 137.7,104.3 137.9,103.7 138,106.2 138.2,104.8 138.4,103.5 138.5,105.1 138.7,108.1 138.9,110.1 139,114.7 139.2,115.9 139.3,117.6 139.5,116.3 139.7,110.4 139.8,110.4 140,110.5 140.2,108.5 140.3,110.6 140.5,109.1 140.6,106.7 140.8,105.4 141,105.3 141.1,108.5 141.3,108 141.4,107.2 141.6,108.1 141.8,107 141.9,110.7 142.1,109.4 142.3,112.5 142.4,113.2 142.6,112.2 142.7,112.5 142.9,115.3 143.1,112.3 143.2,111.3 143.4,113.7 143.6,114.6 143.7,117.9 143.9,120.1 144,121.6 144.2,116.5 144.4,118 144.5,117.3 144.7,111.6 144.9,110.2 145,110.8 145.2,111.6 145.3,114 145.5,114.2 145.7,112.6 145.8,114.3 146,117.7 146.1,115.3 146.3,112.9 146.5,109.2 146.6,102.4 146.8,106.3 147,105.7 147.1,107.7 147.3,109 147.4,110.9 147.6,111.8 147.8,110.4 147.9,108.6 148.1,108.1 148.3,108.1 148.4,109.6 148.6,105.4 148.7,108.6 148.9,111 149.1,112 149.2,113.2 149.4,107.2 149.6,107.1 149.7,109.8 149.9,109.5 150,106.5 150.2,108.3 150.4,106.4 150.5,106.1 150.7,106.6 150.8,105.4 151,103.4 151.2,104.3 151.3,105.3 151.5,101.9 151.7,102.5 151.8,102.4 152,105 152.1,105 152.3,105 152.5,106.6 152.6,108.6 152.8,109.2 153,109.1 153.1,107.5 153.3,107.5 153.4,108.6 153.6,106.2 153.8,105.7 153.9,106 154.1,103.4 154.3,106.1 154.4,106.5 154.6,103.3 154.7,102.2 154.9,102 155.1,102.7 155.2,99.5 155.4,97.2 155.6,97.8 155.7,100.9 155.9,101.9 156,100.9 156.2,100.3 156.4,100.6 156.5,97.9 156.7,98.2 156.8,97.5 157,97.7 157.2,98.4 157.3,100.7 157.5,101.9 157.7,104.3 157.8,103.9 158,106.1 158.1,104.3 158.3,103.3 158.5,104.2 158.6,104.2 158.8,104.3 159,103.3 159.1,107.1 159.3,104.5 159.4,106 159.6,107.2 159.8,103.2 159.9,103.3 160.1,103.2 160.3,99.2 160.4,101.4 160.6,97.8 160.7,98.9 160.9,100.8 161.1,98.6 161.2,99.7 161.4,98.6 161.5,98.6 161.7,96 161.9,96.7 162,96.6 162.2,96.3 162.4,96.1 162.5,98.9 162.7,98.8 162.8,100.6 163,99.9 163.2,100.8 163.3,100.8 163.5,99.4 163.7,100.5 163.8,101.6 164,98.4 164.1,97.8 164.3,99.9 164.5,101.8 164.6,101 164.8,99.6 165,102.8 165.1,100 165.3,102.2 165.4,102.5 165.6,104.3 165.8,102.7 165.9,103.1 166.1,105.6 166.2,103.3 166.4,103.2 166.6,103 166.7,103.9 166.9,105.7 167.1,103.7 167.2,101.9 167.4,104.1 167.5,106 167.7,106 167.9,106.9 168,103.3 168.2,104.4 168.4,102.9 168.5,103.8 168.7,101.8 168.8,101.4 169,102 169.2,102.2 169.3,103.1 169.5,101.5 169.7,102.3 169.8,102.3 170,102.2 170.1,102.7 170.3,100.3 170.5,97.3 170.6,94.8 170.8,96.5 170.9,97.7 171.1,96.7 171.3,96 171.4,94.9 171.6,94.7 171.8,95.7 171.9,93 172.1,93.5 172.2,94.9 172.4,96 172.6,97.1 172.7,97 172.9,96 173.1,96.7 173.2,98.4 173.4,97.6 173.5,95.7 173.7,95.4 173.9,95.6 174,96 174.2,98 174.4,97.9 174.5,98.2 174.7,100.5 174.8,101 175,100.3 175.2,99.4 175.3,99.1 175.5,96.4 175.6,97.6 175.8,100 176,99.2 176.1,100.7 176.3,102.9 176.5,102.1 176.6,100.4 176.8,98 176.9,100.7 177.1,103.2 177.3,102.8 177.4,100.3 177.6,98.9 177.8,100 177.9,101 178.1,100.4 178.2,102.5 178.4,103.1 178.6,100.3 178.7,99.7 178.9,99.8 179.1,97.2 179.2,96.7 179.4,98.8 179.5,99.8 179.7,96.9 179.9,93.7 180,94.5 180.2,93 180.3,93.5 180.5,92.5 180.7,91.1 180.8,92.6 181,90.9 181.2,92.2 181.3,91.7 181.5,91.5 181.6,91.5 181.8,89.4 182,92 182.1,89.6 182.3,89.6 182.5,89.9 182.6,89.5 182.8,86.4 182.9,86.4 183.1,85.6 183.3,84.2 183.4,86.1 183.6,86.1 183.8,83.2 183.9,84.7 184.1,86.4 184.2,89.7 184.4,91.7 184.6,92 184.7,92.1 184.9,93.4 185,93.2 185.2,93.4 185.4,94.4 185.5,95 185.7,95.9 185.9,97.7 186,98.8 186.2,96.7 186.3,98.9 186.5,99.9 186.7,99.8 186.8,98.9 187,93.9 187.2,92.6 187.3,93.3 187.5,89.3 187.6,93.4 187.8,94 188,93.7 188.1,93.6 188.3,96.1 188.5,94.6 188.6,93.4 188.8,92.2 188.9,94.1 189.1,91 189.3,89.6 189.4,88.8 189.6,88.3 189.7,90.1 189.9,89.5 190.1,89.5 190.2,90.9 190.4,89.2 190.6,92.2 190.7,90.8 190.9,90.2 191,88.8 191.2,91.5 191.4,92.2 191.5,92 191.7,91.3 191.9,91.5 192,92 192.2,94.3 192.3,97 192.5,97.2 192.7,97.3 192.8,98 193,99 193.2,97.1 193.3,99.4 193.5,100.4 193.6,99.6 193.8,98.5 194,98.5 194.1,97.3 194.3,96.6 194.4,96.2 194.6,95.4 194.8,94.9 194.9,94.6 195.1,91.8 195.3,91.5 195.4,92.1 195.6,90 195.7,87.8 195.9,86.6 196.1,83.5 196.2,84.4 196.4,84.3 196.6,83.2 196.7,84.1 196.9,88.3 197,86.9 197.2,87.2 197.4,89.3 197.5,87.1 197.7,86.5 197.9,86.2 198,87.1 198.2,88.1 198.3,88.4 198.5,89.8 198.7,89.7 198.8,90.2 199,89.9 199.1,89.7 199.3,91.4 199.5,90.3 199.6,89.5 199.8,91.9 200,92.7 200.1,90.8 200.3,91.5 200.4,92 200.6,92.5 200.8,91.6 200.9,90.4 201.1,89.4 201.3,91.3 201.4,92.3 201.6,92.3 201.7,93.5 201.9,90.1 202.1,88.6 202.2,87.6 202.4,88.4 202.6,87.7 202.7,89.3 202.9,88.7 203,91.4 203.2,91.1 203.4,92.7 203.5,92.1 203.7,92.9 203.8,93.4 204,90.5 204.2,90.3 204.3,87.3 204.5,87.6 204.7,92.4 204.8,94.1 205,95.3 205.1,92.9 205.3,90.9 205.5,90 205.6,90.6 205.8,90.2 206,89.2 206.1,88.1 206.3,86.6 206.4,86.7 206.6,88.2 206.8,90.7 206.9,92.1 207.1,94.1 207.3,91.6 207.4,88.5 207.6,88.1 207.7,88.2 207.9,88.7 208.1,88.4 208.2,87.6 208.4,87.3 208.6,86.8 208.7,87.5 208.9,86 209,86 209.2,86.4 209.4,87.3 209.5,84.6 209.7,83.8 209.8,85.3 210,87.8 210.2,89.2 210.3,91.2 210.5,88.6 210.7,87.9 210.8,88.7 211,88.1 211.1,87.9 211.3,87.6 211.5,86.2 211.6,88 211.8,87.1 212,87.4 212.1,84.5 212.3,85.1 212.4,85.9 212.6,83.6 212.8,83.8 212.9,82.6 213.1,82.1 213.3,82.4 213.4,84.6 213.6,84.7 213.7,86.5 213.9,87.7 214.1,90.6 214.2,89.5 214.4,90.8 214.5,91 214.7,91.2 214.9,92.6 215,92.3 215.2,90.8 215.4,89.7 215.5,89.3 215.7,88.7 215.8,88.1 216,88.4 216.2,87.5 216.3,87.5 216.5,88.4 216.7,84.8 216.8,84.7 217,85.8 217.1,86 217.3,85.2 217.5,85.5 217.6,88.6 217.8,87.6 218,90.3 218.1,90.1 218.3,89.4 218.4,91.3 218.6,92.4 218.8,91.4 218.9,90 219.1,88.3 219.2,87.2 219.4,88.8 219.6,86 219.7,86.9 219.9,84.1 220.1,83.1 220.2,82.3 220.4,84.4 220.5,85.7 220.7,87 220.9,89.4 221,88.9 221.2,90.4 221.4,89.2 221.5,90.2 221.7,90.8 221.8,90.8 222,89.9 222.2,89.7 222.3,88.6 222.5,90.6 222.7,91.6 222.8,94.4 223,95.1 223.1,94.7 223.3,94.9 223.5,91.8 223.6,89.1 223.8,88.4 223.9,86.1 224.1,86 224.3,86.2 224.4,86.3 224.6,84.7 224.8,85.5 224.9,84 225.1,84.4 225.2,82.1 225.4,80.9 225.6,80 225.7,75.8 225.9,73.8 226.1,73.4 226.2,77.6 226.4,78.1 226.5,77.1 226.7,79.2 226.9,80.2 227,78.9 227.2,79.3 227.4,80.7 227.5,81 227.7,80.6 227.8,80.4 228,82.6 228.2,81.5 228.3,83.8 228.5,85.7 228.6,88.3 228.8,85 229,83.1 229.1,85.9 229.3,88.2 229.5,87 229.6,88.3 229.8,91 229.9,93.1 230.1,90.9 230.3,91.9 230.4,95.1 230.6,96.6 230.8,96.6 230.9,99.4 231.1,97.6 231.2,95.7 231.4,94.5 231.6,95.5 231.7,92.6 231.9,91.7 232.1,90.4 232.2,91.5 232.4,90 232.5,87 232.7,87.3 232.9,88.2 233,85.2 233.2,83.4 233.3,84.1 233.5,84.3 233.7,82.4 233.8,83 234,83.9 234.2,85.2 234.3,85.6 234.5,86.8 234.6,86.1 234.8,84.2 235,82.5 235.1,83.3 235.3,83.3 235.5,85.6 235.6,86.4 235.8,89.6 235.9,90.1 236.1,88 236.3,88.9 236.4,88.7 236.6,87.9 236.8,88.8 236.9,91.7 237.1,90.1 237.2,89.5 237.4,89.6 237.6,91.6 237.7,94.3 237.9,94.4 238,93.7 238.2,91.6 238.4,91.2 238.5,91.1 238.7,93.1 238.9,95.1 239,93.6 239.2,93.4 239.3,91.4 239.5,90.9 239.7,89.6 239.8,92.6 240,94 240.2,94.7 240.3,90.4 240.5,87.5 240.6,88.1 240.8,88 241,89.1 241.1,87.9 241.3,86.9 241.5,85.9 241.6,84.3 241.8,83.7 241.9,82.1 242.1,83.4 242.3,79.7 242.4,80.9 242.6,80.3 242.7,81.6 242.9,83.4 243.1,83.8 243.2,84.7 243.4,84.6 243.6,86.4 243.7,85.9 243.9,87 244,86.9 244.2,85 244.4,85.4 244.5,85.6 244.7,83.9 244.9,82.4 245,83.1 245.2,83.7 245.3,81.7 245.5,80.2 245.7,81.5 245.8,82.4 246,81.8 246.2,81.8 246.3,81.8 246.5,83.3 246.6,83.2 246.8,82.2 247,83.9 247.1,87.3 247.3,89.1 247.4,91.3 247.6,93.1 247.8,92.9 247.9,92.3 248.1,93.7 248.3,94.7 248.4,93.6 248.6,91.2 248.7,90.6 248.9,89.4 249.1,89.1 249.2,88.8 249.4,85 249.6,85.9 249.7,85.4 249.9,83.5 250,85 250.2,84.5 250.4,85.9 250.5,86.5 250.7,86.1 250.9,85.3 251,85.4 251.2,84.9 251.3,86.6 251.5,88.3 251.7,89.5 251.8,89.4 252,89.7 252.1,90.3 252.3,90.9 252.5,90 252.6,89.8 252.8,88.9 253,87 253.1,86.1 253.3,85.5 253.4,85.8 253.6,86.5 253.8,87.3 253.9,87.4 254.1,89.7 254.3,86.5 254.4,84.8 254.6,84 254.7,85.5 254.9,86.3 255.1,83.3 255.2,86.6 255.4,88.9 255.6,88.2 255.7,88.2 255.9,89.2 256,89.4 256.2,89.6 256.4,88.5 256.5,89.1 256.7,89.6 256.9,89 257,89.2 257.2,89.9 257.3,88.8 257.5,91.2 257.7,93.3 257.8,94.7 258,93.5 258.1,94.1 258.3,95.4 258.5,94.5 258.6,95.5 258.8,96.8 259,96.2 259.1,95.1 259.3,95.3 259.4,92.8 259.6,90.3 259.8,91.2 259.9,89.3 260.1,88.9 260.3,84.8 260.4,83.6 260.6,81.2 260.7,77.5 260.9,80.2 261.1,77 261.2,77.9 261.4,77.2 261.6,76.4 261.7,76.7 261.9,77.4 262,75.4 262.2,77.3 262.4,77.2 262.5,78.3 262.7,79.1 262.8,78.6 263,78.3 263.2,81.2 263.3,80.5 263.5,82 263.7,81.3 263.8,80.3 264,79.3 264.1,80.4 264.3,82.9 264.5,82.7 264.6,83.5 264.8,85.9 265,86.9 265.1,86.9 265.3,89 265.4,90.1 265.6,90.6 265.8,91.1 265.9,89.3 266.1,88.6 266.3,88.6 266.4,88 266.6,93 266.7,91.5 266.9,88.1 267.1,87.4 267.2,86.5 267.4,89.3 267.5,89.6 267.7,88 267.9,90.5 268,89 268.2,92.5 268.4,91.6 268.5,91.1 268.7,91.3 268.8,91.1 269,92.6 269.2,94.4 269.3,94.6 269.5,95.6 269.7,97.1 269.8,97.3 270,94.8 270.1,93.5 270.3,93.7 270.5,92.6 270.6,88.5 270.8,90.1 271,89.2 271.1,88 271.3,88.5 271.4,89.9 271.6,90.1 271.8,90.4 271.9,89.4 272.1,89.1 272.2,86.1 272.4,86.8 272.6,84.8 272.7,86.3 272.9,88.3 273.1,90 273.2,92.2 273.4,90.2 273.5,90.6 273.7,92.7 273.9,92.7 274,93.9 274.2,92.9 274.4,93.8 274.5,92.5 274.7,91.3 274.8,93.6 275,93.9 275.2,93.9 275.3,93.9 275.5,95.6 275.7,95.4 275.8,94.6 276,93.3 276.1,93.5 276.3,95.3 276.5,94.5 276.6,94.7 276.8,92.6 276.9,93 277.1,95.1 277.3,96.3 277.4,97 277.6,96 277.8,96.1 277.9,97.8 278.1,96.1 278.2,95.5 278.4,95.6 278.6,94.9 278.7,93.5 278.9,90.4 279.1,90.5 279.2,88.4 279.4,86.4 279.5,85.1 279.7,86.7 279.9,85.8 280,85.9 280.2,83.4 280.4,80.6 280.5,81.7 280.7,82 280.8,80.9 281,79.5 281.2,76.2 281.3,77.7 281.5,79.1 281.6,80.2 281.8,81 282,80.6 282.1,83.4 282.3,83.8 282.5,81.2 282.6,82.6 282.8,83.4 282.9,83.8 283.1,85.8 283.3,84.4 283.4,83.5 283.6,85.3 283.8,87.5 283.9,87.6 284.1,85.1 284.2,86.3 284.4,84.4 284.6,86.2 284.7,87.1 284.9,86.4 285.1,85.5 285.2,85.6 285.4,85.4 285.5,86.4 285.7,84.9 285.9,84.6 286,84.9 286.2,84.6 286.3,86.9 286.5,87.9 286.7,87.7 286.8,86.6 287,87.1 287.2,86.5 287.3,83.6 287.5,82.3 287.6,84.2 287.8,87.2 288,85.3 288.1,86.7 288.3,86.3 288.5,89 288.6,88.9 288.8,91.5 288.9,91 289.1,90.2 289.3,91 289.4,94.4 289.6,98.1 289.8,98 289.9,97 290.1,99.2 290.2,99 290.4,97.3 290.6,95.4 290.7,96 290.9,95.2 291,96.6 291.2,96.1 291.4,95.4 291.5,96.2 291.7,95.1 291.9,95 292,90.7 292.2,87.2 292.3,88.8 292.5,89.4 292.7,91.2 292.8,90 293,92.2 293.2,92.5 293.3,92.6 293.5,92.7 293.6,91.6 293.8,91.2 294,93.7 294.1,90.5 294.3,91.4 294.5,91.1 294.6,88.7 294.8,94.7 294.9,97.3 295.1,94.8 295.3,90.8 295.4,90.1 295.6,90.1 295.7,92.9 295.9,93.6 296.1,92 296.2,91.6 296.4,89.6 296.6,89.5 296.7,90.1 296.9,91.3 297,92.9 297.2,95.1 297.4,93.9 297.5,92.8 297.7,93.8 297.9,95.7 298,96.4 298.2,93.7 298.3,95.4 298.5,93.9 298.7,93 298.8,95.3 299,95.6 299.2,95.8 299.3,95.8 299.5,96.7 299.6,97.6 299.8,94.7 300,95.7 300.1,94.5 300.3,94.4 300.4,92.4 300.6,91.8 300.8,92.1 300.9,94.1 301.1,92.6 301.3,92.9 301.4,95.5 301.6,94.7 301.7,94.8 301.9,95.1 302.1,96.5 302.2,94.5 302.4,92.1 302.6,93.2 302.7,91.8 302.9,91.7 303,92 303.2,93.8 303.4,93.2 303.5,95.1 303.7,94.7 303.9,93.7 304,94.1 304.2,92.2 304.3,91.4 304.5,89.5 304.7,88.2 304.8,86 305,84.2 305.1,86.9 305.3,86.3 305.5,85.6 305.6,85.4 305.8,82.2 306,83.3 306.1,81.1 306.3,82.8 306.4,80.2 306.6,78.4 306.8,79 306.9,79.5 307.1,79.4 307.3,80.6 307.4,80.6 307.6,80.9 307.7,82 307.9,78.2 308.1,78.9 308.2,80.2 308.4,82.2 308.6,84.5 308.7,86.5 308.9,85.2 309,84.7 309.2,85.9 309.4,86.3 309.5,82.8 309.7,84.7 309.9,83.9 310,82.4 310.2,85.7 310.3,85.7 310.5,86 310.7,91 310.8,90.2 311,89.7 311.1,87.2 311.3,87.9 311.5,87.8 311.6,88.1 311.8,88.8 312,92.3 312.1,94.1 312.3,96.8 312.4,99.2 312.6,100.4 312.8,101 312.9,102.5 313.1,101.2 313.3,99.9 313.4,100.4 313.6,99.5 313.7,101 313.9,102.3 314.1,101.5 314.2,100.5 314.4,100.2 314.6,99.4 314.7,97.2 314.9,98.3 315,97.4 315.2,97.1 315.4,96.8 315.5,97.3 315.7,97.2 315.8,99.7 316,98.9 316.2,99.5 316.3,98.8 316.5,98.1 316.7,98.5 316.8,97.9 317,98 317.1,98.5 317.3,97.3 317.5,98.2 317.6,97.7 317.8,97.2 318,97.5 318.1,96.9 318.3,93.9 318.4,93.1 318.6,89.7 318.8,91 318.9,90.6 319.1,92.4 319.3,91.4 319.4,89.8 319.6,92 319.7,92.2 319.9,90.9 320.1,89.6 320.2,88 320.4,86.2 320.5,86.7 320.7,86.9 320.9,89.4 321,89.1 321.2,90.5 321.4,90 321.5,89.5 321.7,88.9 321.8,87.4 322,88.1 322.2,89.1 322.3,87.3 322.5,89.1 322.7,90.2 322.8,92.6 323,91 323.1,90.5 323.3,88.6 323.5,87.4 323.6,87.5 323.8,85.5 324,86 324.1,85.4 324.3,85 324.4,86.7 324.6,85.9 324.8,87.3 324.9,88.4 325.1,87.2 325.2,85.9 325.4,86.1 325.6,88.2 325.7,87.5 325.9,89.1 326.1,90.4 326.2,88.5 326.4,88.3 326.5,89.5 326.7,88.7 326.9,91.9 327,94.3 327.2,94 327.4,95.2 327.5,93.2 327.7,94.2 327.8,95.4 328,94.8 328.2,96.3 328.3,94.7 328.5,95.5 328.7,96.5 328.8,98.2 329,98.1 329.1,99.9 329.3,99 329.5,97.8 329.6,98.1 329.8,99.8 329.9,98.2 330.1,98.2 330.3,95.3 330.4,96.1 330.6,93.8 330.8,94.6 330.9,92.1 331.1,93.3 331.2,93 331.4,91.4 331.6,90.7 331.7,92.2 331.9,92.8 332.1,93 332.2,95.2 332.4,88.9 332.5,87.7 332.7,88.9 332.9,88.9 333,85.9 333.2,83.8 333.4,86.2 333.5,90.3 333.7,91.9 333.8,90.7 334,90.5 334.2,88.9 334.3,89.7 334.5,87.5 334.6,86.9 334.8,87.8 335,85.2 335.1,86.2 335.3,84.8 335.5,84 335.6,84.1 335.8,87.4 335.9,92 336.1,90.7 336.3,90.1 336.4,89.8 336.6,92.1 336.8,92.1 336.9,92.3 337.1,95.1 337.2,94 337.4,95.9 337.6,93.3 337.7,95.8 337.9,97.3 338.1,97.5 338.2,101.1 338.4,102.2 338.5,98.8 338.7,95.3 338.9,93.5 339,92.5 339.2,93 339.3,92.8 339.5,92.3 339.7,90.3 339.8,88.3 340,88.3 340.2,88.4 340.3,90.5 340.5,91.9 340.6,90.4 340.8,89.3 341,86.7 341.1,83.7 341.3,83.8 341.5,83.8 341.6,84.7 341.8,86.5 341.9,87.2 342.1,87.3 342.3,87.6 342.4,89.2 342.6,91.9 342.8,90.6 342.9,92.2 343.1,94.8 343.2,96.4 343.4,98.4 343.6,99 343.7,101.1 343.9,101.6 344,101.2 344.2,101.1 344.4,97.5 344.5,96.3 344.7,94.4 344.9,93.2 345,94.9 345.2,95.8 345.3,95.4 345.5,95.1 345.7,95.8 345.8,92.6 346,90.2 346.2,91.7 346.3,90.1 346.5,90 346.6,91.4 346.8,88.9 347,89.7 347.1,92.9 347.3,93.9 347.5,94.8 347.6,93 347.8,91.6 347.9,93.2 348.1,92.8 348.3,92.1 348.4,88.2 348.6,88.6 348.7,88.5 348.9,85.9 349.1,85.5 349.2,87.4 349.4,88.2 349.6,86.8 349.7,84.9 349.9,82.9 350,82.2 350.2,84.4 350.4,86 350.5,85.8 350.7,84.7 350.9,87.9 351,89.1 351.2,91.8 351.3,91.2 351.5,90.9 351.7,93.8 351.8,93.8 352,90.8 352.2,92.5 352.3,92.3 352.5,94.9 352.6,95.6 352.8,96.1 353,93.9 353.1,93.8 353.3,92.6 353.4,90.2 353.6,86.6 353.8,87.1 353.9,86.8 354.1,85.3 354.3,86.7 354.4,88.2 354.6,86 354.7,85.4 354.9,85.6 355.1,85.1 355.2,84.2 355.4,85.1 355.6,84.4 355.7,88.4 355.9,88.1 356,88.3 356.2,91.5 356.4,90.5 356.5,90 356.7,89.9 356.9,92.1 357,91 357.2,91.2 357.3,96.4 357.5,100.4 357.7,98.8 357.8,99.9 358,98.8 358.2,92.6 358.3,90.4 358.5,86.8 358.6,83.6 358.8,82.9 359,82 359.1,83.3 359.3,87.7 359.4,89.3 359.6,85.7 359.8,84.3 359.9,82.9 360.1,81.5 360.3,79.3 360.4,80.2 360.6,81.7 360.7,83.7 360.9,81.2 361.1,85.3 361.2,90.6 361.4,90.2 361.6,90.6 361.7,92.7 361.9,91.5 362,89.6 362.2,89.8 362.4,90.3 362.5,91 362.7,87.5 362.9,87.8 363,89.6 363.2,91.2 363.3,94.9 363.5,89.1 363.7,88.9 363.8,91.3 364,91.6 364.1,91.6 364.3,90.1 364.5,87.4 364.6,83.8 364.8,87.2 365,87.4 365.1,85.8 365.3,86.4 365.4,87.5 365.6,81.8 365.8,82.3 365.9,79.7 366.1,75.7 366.3,82.2 366.4,83.8 366.6,82.8 366.7,86 366.9,85.8 367.1,80.9 367.2,84.5 367.4,81.6 367.6,83.2 367.7,85.5 367.9,88.7 368,89.7 368.2,85.4 368.4,92.2 368.5,92.9 368.7,92.8 368.8,97.2 369,95 369.2,94.5 369.3,94.9 369.5,95 369.7,92 369.8,94 370,97.5 370.1,95 370.3,94 370.5,94.8 370.6,91.9 370.8,93.2 371,97.4 371.1,94.8 371.3,92.3 371.4,90.5 371.6,89.6 371.8,93.4 371.9,95.3 372.1,93.1 372.3,95.8 372.4,93.3 372.6,91.8 372.7,90.3 372.9,93.8 373.1,92.8 373.2,90 373.4,89.9 373.5,92.4 373.7,90.6 373.9,83.8 374,89.9 374.2,95.4 374.4,85.1 374.5,83.5 374.7,77.9 374.8,78 375,77.3 375.2,80.1 375.3,78.7 375.5,82.8 375.7,80.8 375.8,76.6 376,80.5 376.1,73 376.3,69.8 376.5,77.8 376.6,76.2 376.8,71.7 377,73.2 377.1,90 377.3,88.5 377.4,95.9 377.6,97.6 377.8,95.5 377.9,100.3 378.1,102.1 378.2,106.2 378.4,109.5 378.6,107.3 378.7,111.5 378.9,111.8 379.1,116.2 379.2,110.9 379.4,111.7 379.5,113.4 379.7,109.8 379.9,102.5 380,101.6 380.2,100.8 380.4,98.2 380.5,101.8 380.7,100.1 380.8,93.8 381,91.3 381.2,90.7 381.3,95.3 381.5,92.6 381.7,99.1 381.8,100.9 382,109.8 382.1,112.3 382.3,114.5 382.5,112.7 382.6,107.7 382.8,109.1 382.9,111.4 383.1,112 383.3,113.7 383.4,111.3 383.6,110.4 383.8,112.7 383.9,110.4 384.1,112.2 384.2,114 384.4,111.1 384.6,109.1 384.7,106.1 384.9,102.4 385.1,100.9 385.2,101.5 385.4,106.3 385.5,101.9 385.7,99.9 385.9,92.8 386,91.5 386.2,98.2 386.4,97.4 386.5,102 386.7,100 386.8,103.2 387,103.6 387.2,98.3 387.3,95.8 387.5,99.6 387.6,99.9 387.8,99.3 388,101.5 388.1,101.4 388.3,105.6 388.5,103.8 388.6,116.9 388.8,115.9 388.9,115.9 389.1,115.6 389.3,112.6 389.4,108.2 389.6,112.1 389.8,110.9 389.9,108.2 390.1,106.5 390.2,104.3 390.4,111.1 390.6,114.8 390.7,109.3 390.9,111.3 391.1,109.2 391.2,107.2 391.4,105.6 391.5,100.9 391.7,110.2 391.9,105.8 392,111.2 392.2,116.3 392.3,112.6 392.5,112 392.7,118.2 392.8,123.3 393,117.5 393.2,117.4 393.3,118.2 393.5,121 393.6,121.6 393.8,119.6 394,123.6 394.1,122.1 394.3,120.8 394.5,114 394.6,115.9 394.8,113.6 394.9,112.8 395.1,114.5 395.3,115.6 395.4,110.3 395.6,109.5 395.8,112.2 395.9,103.1 396.1,105.6 396.2,107 396.4,107.6 396.6,104.5 396.7,103.8 396.9,108.1 397,111.7 397.2,112.1 397.4,113.5 397.5,114.3 397.7,111.4 397.9,111.5 398,115.5 398.2,112.6 398.3,112.2 398.5,109.9 398.7,112 398.8,111.3 399,110.1 399.2,108.6 399.3,108.8 399.5,112.1 399.6,112.1 399.8,113.6 400,113.4 400.1,108.7 400.3,111.4 400.5,114 400.6,112.8 400.8,120.1 400.9,123.8 401.1,123.3 401.3,125.3 401.4,125.9 401.6,124.9 401.7,123.3 401.9,122 402.1,121 402.2,115.7 402.4,118.6 402.6,119.9 402.7,122.8 402.9,126.2 403,124.3 403.2,123.3 403.4,121.5 403.5,119.9 403.7,116.7 403.9,114.2 404,114.7 404.2,115.4 404.3,118.5 404.5,120.9 404.7,124.4 404.8,118.7 405,124.2 405.2,124.6 405.3,124.9 405.5,120.6 405.6,123.3 405.8,124.1 406,123.7 406.1,126 406.3,122.9 406.4,122.1 406.6,121.7 406.8,111.9 406.9,106.8 407.1,105.2 407.3,104.9 407.4,103.3 407.6,103.8 407.7,104.2 407.9,103.6 408.1,104.9 408.2,101.6 408.4,98.2 408.6,98.6 408.7,100.7 408.9,102.6 409,105.3 409.2,110.7 409.4,112.6 409.5,125.1 409.7,129.6 409.9,127.1 410,127 410.2,129.1 410.3,126.2 410.5,127.1 410.7,123 410.8,126.2 411,128.3 411.2,132.2 411.3,132.3 411.5,123.2 411.6,125.7 411.8,127.9 412,122.2 412.1,122.1 412.3,120.2 412.4,123.2 412.6,126 412.8,130.7 412.9,135.8 413.1,139.3 413.3,132.2 413.4,133.5 413.6,135.6 413.7,124 413.9,124.2 414.1,132.9 414.2,131.2 414.4,131.7 414.6,129.6 414.7,133.6 414.9,135.1 415,136.5 415.2,137.6 415.4,140.8 415.5,138.8 415.7,139.9 415.9,141.5 416,135.6 416.2,142.3 416.3,143.1 416.5,151.8 416.7,146.2 416.8,142.7 417,141.6 417.1,140 417.3,140 417.5,138.7 417.6,138.2 417.8,136.2 418,133.1 418.1,131.2 418.3,127.6 418.4,126.3 418.6,137.4 418.8,135.3 418.9,129.5 419.1,126.8 419.3,122.8 419.4,127.6 419.6,125.4 419.7,120 419.9,119.1 420.1,117.9 420.2,116.5 420.4,118.5 420.6,119.1 420.7,119.6 420.9,118.6 421,119.1 421.2,115.7 421.4,115.1 421.5,115.8 421.7,120.6 421.8,122.8 422,122 422.2,124.6 422.3,130 422.5,130.5 422.7,140 422.8,149.7 423,147.6 423.1,140.9 423.3,143.1 423.5,146.2 423.6,144.7 423.8,149.7 424,149.6 424.1,147.7 424.3,150.8 424.4,148 424.6,147.8 424.8,149.1 424.9,149.8 425.1,150 425.3,148.5 425.4,147.1 425.6,141.2 425.7,143.8 425.9,147 426.1,150.8 426.2,154.1 426.4,150 426.5,147.5 426.7,149.6 426.9,145.9 427,146.7 427.2,146.8 427.4,145.5 427.5,151.4 427.7,151.3 427.8,147.3 428,142.2 428.2,153.7 428.3,152.1 428.5,151.7 428.7,146.7 428.8,141.7 429,141.3 429.1,143.3 429.3,143.4 429.5,144.1 429.6,148.6 429.8,144.3 430,148.2 430.1,148.6 430.3,146.2 430.4,144.7 430.6,150.8 430.8,153.8 430.9,145 431.1,149.7 431.2,147.3 431.4,144.9 431.6,145.7 431.7,144.4 431.9,146.4 432.1,146.9 432.2,149.2 432.4,149.6 432.5,149.1 432.7,151.7 432.9,146.8 433,144.8 433.2,143.8 433.4,142.6 433.5,141.5 433.7,145.5 433.8,140.7 434,152.9 434.2,152.1 434.3,155.2 434.5,159.5 434.7,160.7 434.8,158.9 435,158.6 435.1,164 435.3,160.5 435.5,161.2 435.6,161.4 435.8,168.1 435.9,172.4 436.1,167.7 436.3,168.9 436.4,162.5 436.6,166.2 436.8,158.5 436.9,147.2 437.1,147.3 437.2,147.9 437.4,144 437.6,141.3 437.7,143 437.9,143.1 438.1,133.2 438.2,132 438.4,134.4 438.5,135.1 438.7,135.8 438.9,139.9 439,140.4 439.2,144.6 439.4,143.7 439.5,153.2 439.7,157.5 439.8,158.7 440,156.1 440.2,162.2 440.3,163.7 440.5,165 440.6,160.7 440.8,174.2 441,179.9 441.1,179.1 441.3,179.6 441.5,181.3 441.6,182.9 441.8,184.1 441.9,184.3 442.1,182 442.3,177.4 442.4,181.6 442.6,178.9 442.8,178.3 442.9,177.7 443.1,177.1 443.2,181.8 443.4,181.8 443.6,178.2 443.7,176.6 443.9,174.6 444.1,175 444.2,171.2 444.4,169.3 444.5,170.3 444.7,166 444.9,169.4 445,162.9 445.2,160.3 445.3,165.7 445.5,161.1 445.7,163.4 445.8,163.6 446,161.2 446.2,159.4 446.3,158.6 446.5,147.2 446.6,144.3 446.8,147.4 447,135.1 447.1,134.1 447.3,131.6 447.5,138.5 447.6,136.3 447.8,142 447.9,141.3 448.1,143.8 448.3,145.6 448.4,144 448.6,142.1 448.8,144.3 448.9,148.4 449.1,157.4 449.2,160.3 449.4,168 449.6,167.8 449.7,175.1 449.9,179 450,177.8 450.2,177.3 450.4,176.3 450.5,179.6 450.7,182.9 450.9,179.9 451,180.8 451.2,183.5 451.3,180 451.5,184.1 451.7,187.3 451.8,187.3 452,182.1 452.2,176.1 452.3,178.4 452.5,176.4 452.6,185.4 452.8,183.7 453,182.1 453.1,182 453.3,184.1 453.5,181.1 453.6,181.6 453.8,180.5 453.9,178.5 454.1,177.5 454.3,180.1 454.4,177.7 454.6,178 454.7,183.1 454.9,181.5 455.1,186 455.2,184.1 455.4,176.6 455.6,175.4 455.7,176.3 455.9,173.5 456,170.8 456.2,173 456.4,174.1 456.5,173.3 456.7,172.6 456.9,173.3 457,170.4 457.2,170.8 457.3,169.8 457.5,161.8 457.7,162 457.8,160.9 458,160.2 458.2,162.8 458.3,168.2 458.5,171.6 458.6,170.8 458.8,172.5 459,171.1 459.1,173.5 459.3,174.5 459.5,173.5 459.6,177.1 459.8,176.7 459.9,179.1 460.1,179 460.3,190.5 460.4,191.9 460.6,194.9 460.7,192.2 460.9,192.2 461.1,187.8 461.2,186.8 461.4,188.1 461.6,184.9 461.7,185 461.9,185.7 462,186.6 462.2,184.4 462.4,183.6 462.5,191.3 462.7,188.1 462.9,187.4 463,186.2 463.2,186.7 463.3,183.4 463.5,184.6 463.7,182 463.8,184.4 464,180 464.2,188.5 464.3,194 464.5,188.9 464.6,190 464.8,186.5 465,185.8 465.1,178 465.3,173.8 465.4,167.7 465.6,169.6 465.8,167.3 465.9,167.8 466.1,169.3 466.3,171 466.4,169 466.6,165.9 466.7,169.8 466.9,163.7 467.1,167.2 467.2,166 467.4,162.8 467.6,162.3 467.7,163.2 467.9,169.4 468,171.3 468.2,172.7 468.4,168.9 468.5,166.2 468.7,165.1 468.9,168.1 469,168.3 469.2,171.5 469.3,171.7 469.5,171.6 469.7,174.8 469.8,174.6 470,173.6 470.1,176 470.3,178.4 470.5,175.8 470.6,178.6 470.8,173.1 471,180.2 471.1,179.8 471.3,179.9 471.4,176.3 471.6,179.2 471.8,178.8 471.9,176.8 472.1,178 472.3,171.2 472.4,172.7 472.6,171.4 472.7,177.4 472.9,174.8 473.1,170.6 473.2,167.5 473.4,165.6 473.6,170.5 473.7,168.6 473.9,171 474,172.2 474.2,175.7 474.4,175 474.5,171.6 474.7,173.5 474.8,166.4 475,174 475.2,173.8 475.3,171.9 475.5,168.8 475.7,169.2 475.8,172 476,176.4 476.1,178.6 476.3,176.3 476.5,178.1 476.6,177.2 476.8,184 477,183.7 477.1,186.3 477.3,190.3 477.4,185.2 477.6,189 477.8,186.8 477.9,183.5 478.1,187.6 478.3,183.9 478.4,185.2 478.6,183.1 478.7,182.2 478.9,182 479.1,183.6 479.2,182.5 479.4,181.4 479.5,170 479.7,166.2 479.9,162.8 480,165.8 480.2,168.7 480.4,167.8 480.5,166.6 480.7,167.9 480.8,167.9 481,169.7 481.2,166.9 481.3,157.8 481.5,158.3 481.7,158.2 481.8,153.7 482,154.2 482.1,154.6 482.3,161.4 482.5,164.4 482.6,164.2 482.8,160.4 483,161.5 483.1,159.2 483.3,160.6 483.4,161.4 483.6,164.6 483.8,163.5 483.9,169.6 484.1,169.2 484.2,173.1 484.4,170.6 484.6,169.9 484.7,169.7 484.9,167.7 485.1,163.8 485.2,165.3 485.4,164.8 485.5,162 485.7,163.1 485.9,161.6 486,161.4 486.2,151.5 486.4,147.6 486.5,148.9 486.7,148.1 486.8,149 487,149.3 487.2,150.3 487.3,148.2 487.5,145.3 487.7,144.1 487.8,143.1 488,146.5 488.1,145.4 488.3,147 488.5,149 488.6,155.7 488.8,162.8 488.9,162.8 489.1,163.3 489.3,161.2 489.4,172 489.6,168.7 489.8,163.6 489.9,166 490.1,169 490.2,170 490.4,169.2 490.6,175.7 490.7,176.4 490.9,174.2 491.1,176.2 491.2,170.7 491.4,171.2 491.5,167.2 491.7,168.3 491.9,166.1 492,164 492.2,161.1 492.4,154.5 492.5,152 492.7,153.4 492.8,149.9 493,154.3 493.2,149.8 493.3,147.4 493.5,145.4 493.6,141.9 493.8,142.3 494,144.4 494.1,146.4 494.3,149.5 494.5,148.6 494.6,135.8 494.8,140.6 494.9,134.2 495.1,135.3 495.3,134.9 495.4,133.3 495.6,132.9 495.8,135.9 495.9,137 496.1,138.8 496.2,137.9 496.4,136.2 496.6,136.1 496.7,134.7 496.9,134 497.1,134 497.2,137.4 497.4,146.6 497.5,147 497.7,155 497.9,159.5 498,152.4 498.2,152.8 498.3,153.7 498.5,150.1 498.7,151.8 498.8,151.6 499,153.3 499.2,153 499.3,151.8 499.5,149.4 499.6,152 499.8,146.8 500,143.4 500.1,142.4 500.3,142.7 500.5,140.2 500.6,139.4 500.8,143.7 500.9,149.2 501.1,148.2 501.3,146.9 501.4,147.7 501.6,148.7 501.8,144.2 501.9,145.1 502.1,144.7 502.2,144 502.4,139.3 502.6,136.9 502.7,138.7 502.9,137.6 503,136.1 503.2,139.6 503.4,140.3 503.5,137 503.7,136.4 503.9,128.7 504,124.7 504.2,121.1 504.3,118.2 504.5,115.4 504.7,117.6 504.8,119.8 505,117.6 505.2,122 505.3,123.1 505.5,122.5 505.6,122.4 505.8,119.8 506,118.8 506.1,119 506.3,120.6 506.5,118.7 506.6,124.1 506.8,123.8 506.9,125.1 507.1,126.1 507.3,126.8 507.4,126.4 507.6,124.8 507.7,126.4 507.9,124.1 508.1,120.9 508.2,121.8 508.4,121 508.6,121.9 508.7,121.9 508.9,120.2 509,118.5 509.2,115.8 509.4,116.3 509.5,116.5 509.7,115.9 509.9,114.8 510,114.2 510.2,114 510.3,113.2 510.5,112.7 510.7,113.8 510.8,113.3 511,112.1 511.2,111.5 511.3,110.8 511.5,110.2 511.6,110.4 511.8,112.6 512,112.3 512.1,111.6 512.3,112 512.5,110.5 512.6,109.8 512.8,109.1 512.9,108.4 513.1,107.3 513.3,106.7 513.4,104.6 513.6,102.9 513.7,99.5 513.9,98.1 514.1,96.7 514.2,96.4 514.4,95.5 514.6,94.9 514.7,94 514.9,93.5 515,92.4 515.2,92.1 515.4,93.3 515.5,92.9 515.7,92.4 515.9,93.1 516,93.1 516.2,94.7 516.3,95.2 516.5,98.6 516.7,99.9 516.8,99.9 517,100.1 517.2,101.3 517.3,102.3 517.5,103.5 517.6,105.7 517.8,107.8 518,111.1 518.1,114.4 518.3,119" stroke="#f6a268" stroke-opacity="0.82" stroke-width="2.4"/>
<path d="M78.5,145.9 79,141 79.5,137.2 80,134.4 80.5,131.8 81,129.7 81.5,128.5 82,127.8 82.5,127.2 83,126.9 83.5,126.6 84,126.1 84.5,125.5 85,124.9 85.5,124.6 86,124.4 86.5,124.1 87,123.7 87.5,123.4 88,123.2 88.5,123.2 89,123.2 89.5,123.3 90,123.4 90.5,123.5 91,123.5 91.5,123.6 92,123.4 92.5,123.3 93,123.1 93.5,122.9 94,122.9 94.5,123.1 95,123.4 95.5,123.5 96,123.5 96.5,123.5 97,123.5 97.5,123.6 98,123.5 98.5,123.5 99,123.4 99.5,123.4 100,123.4 100.5,123.5 101,123.4 101.5,123.2 102,122.9 102.5,122.7 103,122.7 103.5,122.8 104,122.9 104.5,122.9 105,122.8 105.5,122.6 106,122.2 106.5,121.4 107,120.8 107.5,120.3 108,120 108.5,119.8 109,119.5 109.5,119.1 110,118.6 110.5,118.3 111,118.1 111.5,117.8 112,117.5 112.5,117.1 113,116.8 113.5,116.7 114,116.7 114.5,116.5 115,116.2 115.5,115.7 116,115.2 116.5,114.8 117,114.4 117.5,114 118,113.6 118.5,113.2 119,113.1 119.5,113.1 120,113 120.5,112.8 121,112.3 121.5,111.9 122,111.4 122.5,111 123,110.7 123.5,110.4 124,110.3 124.5,110 125,109.7 125.5,109.3 126,108.8 126.5,108.4 127,107.9 127.5,107.6 128,107.5 128.5,107.3 129,107 129.5,106.7 130,106.3 130.5,105.9 131,105.6 131.5,105.3 132,105 132.5,104.7 133,104.7 133.5,104.9 134,105 134.5,104.9 135,104.5 135.5,104.2 136,104 136.5,104 137,103.7 137.5,103.4 138,103 138.5,102.9 139,102.9 139.5,102.7 140,102.4 140.5,102 141,101.9 141.5,101.7 142,101.7 142.5,101.6 143,101.6 143.5,101.6 144,101.5 144.5,101.3 145,101.1 145.5,101 146,100.7 146.5,100.4 147,100.2 147.5,100.1 148,100.1 148.5,100.1 149,99.9 149.5,99.8 150,99.9 150.5,99.9 151,99.8 151.5,99.6 152,99.5 152.5,99.6 153,99.6 153.5,99.7 154,99.4 154.5,99.1 155,98.8 155.5,98.5 156,98.2 156.5,98 157,97.8 157.5,97.5 158,97.2 158.5,96.9 159,96.6 159.5,96.4 160,96.2 160.5,96 161,95.7 161.5,95.4 162,95.3 162.5,95.1 163,94.9 163.5,94.7 164,94.5 164.5,94.4 165,94 165.5,93.7 166,93.3 166.5,93.2 167,93.2 167.5,93.1 168,92.9 168.5,92.8 169,92.7 169.5,92.6 170,92.3 170.5,91.9 171,91.5 171.5,91.2 172,91 172.5,90.9 173,90.8 173.5,90.9 174,90.9 174.5,90.9 175,91 175.5,91 176,91.1 176.5,91.2 177,91 177.5,90.9 178,90.9 178.5,90.9 179,91.1 179.5,90.9 180,90.8 180.5,90.6 181,90.7 181.5,90.7 182,90.7 182.5,90.6 183,90.6 183.5,90.5 184,90.5 184.5,90.4 185,90.5 185.5,90.6 186,90.8 186.5,90.6 187,90.2 187.5,89.7 188,89.5 188.5,89.3 189,89.2 189.5,89.3 190,89.3 190.5,89.3 191,89.3 191.5,89.2 192,89.4 192.5,89.5 193,89.7 193.5,89.7 194,89.7 194.5,89.6 195,89.4 195.5,89.1 196,89 196.5,89.2 197,89.5 197.5,89.7 198,89.9 198.5,90.2 199,90.6 199.5,90.7 200,90.5 200.5,90.4 201,90.2 201.5,90.1 202,90 202.5,89.9 203,89.6 203.5,89.4 204,89.4 204.5,89.4 205,89.5 205.5,89.5 206,89.4 206.5,89.4 207,89.4 207.5,89.3 208,89 208.5,88.8 209,88.7 209.5,88.6 210,88.5 210.5,88.4 211,88.4 211.5,88.4 212,88.5 212.5,88.4 213,88.3 213.5,88.2 214,88.4 214.5,88.5 215,88.5 215.5,88.4 216,88.1 216.5,87.8 217,87.5 217.5,87.4 218,87.4 218.5,87.4 219,87.4 219.5,87.4 220,87.2 220.5,86.9 221,86.6 221.5,86.6 222,86.9 222.5,87.2 223,87.2 223.5,87.1 224,86.9 224.5,86.7 225,86.6 225.5,86.4 226,86.3 226.5,86.3 227,86.5 227.5,86.7 228,87 228.5,87 229,86.9 229.5,86.8 230,86.9 230.5,87 231,87 231.5,86.9 232,86.8 232.5,86.7 233,86.7 233.5,86.8 234,87.1 234.5,87.3 235,87.4 235.5,87.4 236,87.3 236.5,87.3 237,87.3 237.5,87.5 238,87.5 238.5,87.5 239,87.4 239.5,87.5 240,87.6 240.5,87.8 241,87.9 241.5,87.9 242,87.9 242.5,88 243,88.2 243.5,88.5 244,88.7 244.5,89 245,89.1 245.5,89.2 246,89 246.5,88.9 247,88.9 247.5,89.1 248,89.2 248.5,89.3 249,89.2 249.5,89.1 250,89 250.5,88.9 251,88.9 251.5,89 252,89.2 252.5,89.2 253,89.3 253.5,89.3 254,89.2 254.5,88.9 255,88.7 255.5,88.6 256,88.6 256.5,88.6 257,88.5 257.5,88.5 258,88.7 258.5,88.8 259,88.9 259.5,88.9 260,88.7 260.5,88.5 261,88.3 261.5,88.2 262,88.2 262.5,88.3 263,88.4 263.5,88.5 264,88.7 264.5,89 265,89.2 265.5,89.4 266,89.4 266.5,89.3 267,89.2 267.5,89.1 268,89 268.5,88.9 269,89.1 269.5,89.1 270,89.2 270.5,89.1 271,89 271.5,88.8 272,88.8 272.5,88.8 273,88.9 273.5,89.1 274,89.1 274.5,89.1 275,89.2 275.5,89.2 276,89.1 276.5,89 277,89.4 277.5,90.1 278,90.8 278.5,91.3 279,91.5 279.5,91.6 280,91.6 280.5,91.5 281,91.5 281.5,91.6 282,91.7 282.5,91.8 283,91.9 283.5,91.9 284,92 284.5,92 285,91.9 285.5,91.6 286,91.5 286.5,91.5 287,91.6 287.5,91.7 288,91.8 288.5,91.9 289,92 289.5,92.1 290,92.1 290.5,92.1 291,92 291.5,91.9 292,91.8 292.5,91.7 293,91.6 293.5,91.6 294,91.6 294.5,91.5 295,91.6 295.5,91.6 296,91.5 296.5,91.5 297,91.5 297.5,91.6 298,91.7 298.5,91.7 299,91.6 299.5,91.4 300,91.3 300.5,91.2 301,91.3 301.5,91.2 302,91 302.5,90.9 303,91.1 303.5,91.2 304,91.2 304.5,91 305,91 305.5,90.9 306,90.8 306.5,90.6 307,90.5 307.5,90.4 308,90.5 308.5,90.4 309,90.4 309.5,90.3 310,90.3 310.5,90.1 311,90 311.5,90.1 312,90.4 312.5,90.8 313,90.9 313.5,91 314,91 314.5,91 315,90.7 315.5,90.4 316,90.3 316.5,90.2 317,90.3 317.5,90.3 318,90.4 318.5,90.6 319,90.9 319.5,91.2 320,91.2 320.5,91.2 321,91.3 321.5,91.5 322,91.7 322.5,91.8 323,91.9 323.5,91.9 324,91.9 324.5,91.8 325,91.7 325.5,91.7 326,91.8 326.5,92.2 327,92.4 327.5,92.5 328,92.4 328.5,92.3 329,92.3 329.5,92.1 330,91.7 330.5,91.4 331,91.3 331.5,91.2 332,91.2 332.5,91.2 333,91.2 333.5,91.2 334,91 334.5,90.8 335,90.7 335.5,90.8 336,90.7 336.5,90.7 337,90.7 337.5,91 338,91.2 338.5,91.2 339,91 339.5,90.8 340,90.7 340.5,90.6 341,90.4 341.5,90.3 342,90.4 342.5,90.5 343,90.7 343.5,90.9 344,91.1 344.5,91.2 345,91.2 345.5,91 346,90.8 346.5,90.8 347,91 347.5,91.2 348,91.4 348.5,91.4 349,91.4 349.5,91.5 350,91.5 350.5,91.6 351,91.7 351.5,91.9 352,92.1 352.5,92.5 353,92.9 353.5,93.2 354,93.4 354.5,93.5 355,93.6 355.5,93.7 356,93.8 356.5,94 357,94.3 357.5,94.6 358,95 358.5,95.2 359,95.3 359.5,95.4 360,95.4 360.5,95.6 361,96 361.5,96.3 362,96.6 362.5,96.8 363,97.1 363.5,97.5 364,97.9 364.5,98.1 365,98.3 365.5,98.4 366,98.6 366.5,98.9 367,99.3 367.5,99.6 368,100 368.5,100.5 369,101 369.5,101.3 370,101.6 370.5,101.8 371,102 371.5,102.2 372,102.5 372.5,102.9 373,103.3 373.5,103.6 374,103.9 374.5,104.2 375,104.5 375.5,104.9 376,105.4 376.5,105.8 377,106.4 377.5,106.8 378,107.3 378.5,107.8 379,108.3 379.5,108.7 380,108.9 380.5,109.1 381,109.4 381.5,109.9 382,110.3 382.5,110.6 383,111 383.5,111.6 384,112.3 384.5,112.9 385,113.5 385.5,114 386,114.4 386.5,114.6 387,114.7 387.5,114.8 388,115 388.5,115.3 389,115.3 389.5,115.3 390,115.2 390.5,115.4 391,115.6 391.5,115.8 392,116 392.5,116.4 393,116.8 393.5,117.4 394,117.9 394.5,118.4 395,118.8 395.5,119 396,119.3 396.5,119.7 397,120.2 397.5,120.7 398,121.3 398.5,121.8 399,122.3 399.5,122.7 400,123.1 400.5,123.5 401,124 401.5,124.6 402,125.1 402.5,125.6 403,126 403.5,126.6 404,127.2 404.5,127.8 405,128.5 405.5,129.1 406,129.7 406.5,130.3 407,130.9 407.5,131.4 408,132 408.5,132.6 409,133.5 409.5,134.5 410,135.8 410.5,136.8 411,137.6 411.5,138.2 412,138.7 412.5,139.1 413,139.5 413.5,139.9 414,140.4 414.5,141 415,141.8 415.5,142.6 416,143.4 416.5,144.3 417,145.2 417.5,145.9 418,146.4 418.5,146.9 419,147.6 419.5,148.5 420,149.3 420.5,150 421,150.6 421.5,151.3 422,152.1 422.5,152.8 423,153.4 423.5,154.2 424,155 424.5,155.9 425,156.7 425.5,157.6 426,158.4 426.5,159.2 427,160.1 427.5,160.9 428,161.7 428.5,162.4 429,163.1 429.5,163.8 430,164.5 430.5,165.1 431,165.7 431.5,166.2 432,166.6 432.5,167.1 433,167.4 433.5,167.8 434,168.3 434.5,168.9 435,169.5 435.5,170.2 436,170.7 436.5,171.1 437,171.2 437.5,171.2 438,171.5 438.5,171.8 439,172.3 439.5,172.7 440,173.3 440.5,173.7 441,174 441.5,174.1 442,174 442.5,173.9 443,173.9 443.5,173.9 444,173.7 444.5,173.7 445,173.8 445.5,174 446,174.1 446.5,174.1 447,174.2 447.5,174.3 448,174.4 448.5,174.6 449,174.8 449.5,175.2 450,175.4 450.5,175.5 451,175.4 451.5,175.3 452,175.3 452.5,175.4 453,175.4 453.5,175.5 454,175.4 454.5,175.4 455,175.4 455.5,175.3 456,175.1 456.5,174.9 457,174.7 457.5,174.4 458,174.4 458.5,174.4 459,174.5 459.5,174.6 460,174.7 460.5,174.6 461,174.4 461.5,174 462,173.6 462.5,173.2 463,172.7 463.5,172.4 464,172.2 464.5,172.1 465,171.9 465.5,171.4 466,171.1 466.5,170.7 467,170.3 467.5,169.8 468,169.3 468.5,168.9 469,168.4 469.5,168 470,167.5 470.5,166.9 471,166.2 471.5,165.6 472,165.2 472.5,164.7 473,164.2 473.5,163.6 474,163.1 474.5,162.5 475,161.9 475.5,161.4 476,160.8 476.5,160.3 477,159.8 477.5,159.3 478,158.6 478.5,157.8 479,156.8 479.5,155.8 480,154.6 480.5,153.7 481,152.9 481.5,152.3 482,151.6 482.5,151 483,150.3 483.5,149.5 484,148.7 484.5,147.8 485,146.9 485.5,145.8 486,144.9 486.5,144 487,143.2 487.5,142.6 488,141.9 488.5,141.1 489,139.9 489.5,138.7 490,137.4 490.5,136.3 491,135.2 491.5,133.9 492,132.6 492.5,131.4 493,130.2 493.5,129 493.9,128.1" stroke="#46a046" stroke-opacity="0.68"/>
</g>
<g stroke="#000" stroke-width="1.11" fill="none">
<path d="M78.50,368.3 v4.86"/>
<path d="M145.99,368.3 v4.86"/>
<path d="M213.48,368.3 v4.86"/>
<path d="M280.97,368.3 v4.86"/>
<path d="M348.46,368.3 v4.86"/>
<path d="M415.95,368.3 v4.86"/>
<path d="M483.44,368.3 v4.86"/>
<path d="M56.5,306.32 h-4.86"/>
<path d="M56.5,237.54 h-4.86"/>
<path d="M56.5,168.76 h-4.86"/>
<path d="M56.5,99.98 h-4.86"/>
<path d="M56.5,31.20 h-4.86"/>
<rect x="56.5" y="6.3" width="486.0" height="362.0" stroke-linejoin="miter"/>
</g>
<g text-anchor="middle">
<text x="78.20" y="387.6">0</text>
<text x="145.69" y="387.6">2500</text>
<text x="213.18" y="387.6">5000</text>
<text x="280.67" y="387.6">7500</text>
<text x="350.26" y="387.6" textLength="47.3">10,000</text>
<text x="417.75" y="387.6" textLength="47.3">12,500</text>
<text x="485.24" y="387.6" textLength="47.3">15,000</text>
</g>
<g text-anchor="end">
<text x="46.20" y="310.92">0.1</text>
<text x="46.20" y="242.14">0.2</text>
<text x="46.20" y="173.36">0.3</text>
<text x="46.20" y="104.58">0.4</text>
<text x="46.20" y="35.80">0.5</text>
</g>
<text x="298.90" y="406.45" text-anchor="middle" textLength="269.1">Feature index by frequency, decreasing</text>
<text transform="translate(17.4,187.30) rotate(-90)" text-anchor="middle" textLength="68.3">PCA Score</text>
<rect x="314.4" y="297.6" width="221.5" height="63.8" rx="2.8" fill="#fff" fill-opacity="0.8" stroke="#dcdcdc" stroke-width="1.2"/>
<path d="M319.7,308.7 h27.3" stroke="#4670bc" stroke-opacity="0.55" stroke-width="2.08" stroke-linecap="square" fill="none"/>
<text x="356.3" y="313.26" textLength="156.0">Smoothing window: 10</text>
<path d="M319.7,328.7 h27.3" stroke="#f6a268" stroke-opacity="0.68" stroke-width="2.08" stroke-linecap="square" fill="none"/>
<text x="356.3" y="333.26" textLength="164.8">Smoothing window: 100</text>
<path d="M319.7,348.7 h27.3" stroke="#46a046" stroke-opacity="0.58" stroke-width="2.08" stroke-linecap="square" fill="none"/>
<text x="356.3" y="353.26" textLength="173.6">Smoothing window: 1000</text>
</svg>
</body></html>
